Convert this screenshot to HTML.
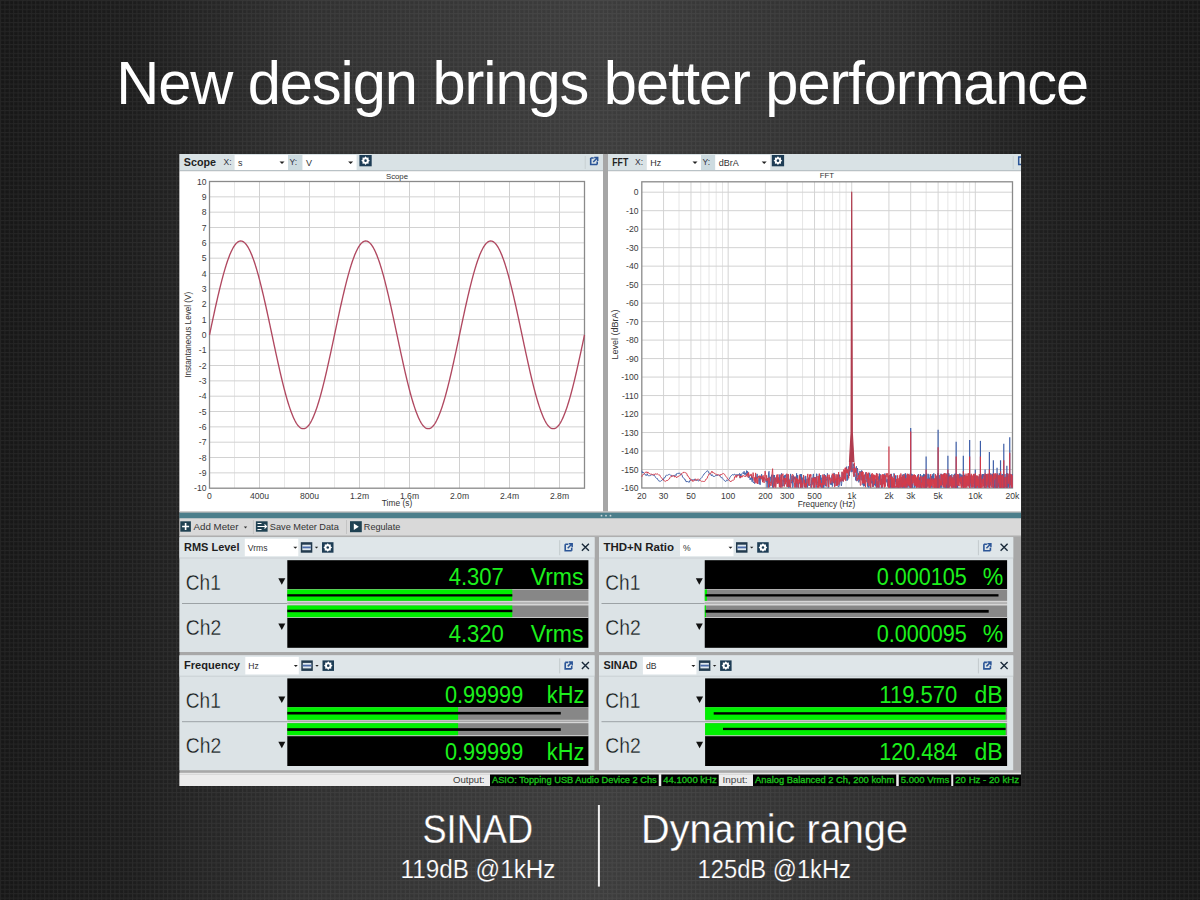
<!DOCTYPE html><html><head><meta charset="utf-8"><style>html,body{margin:0;padding:0;width:1200px;height:900px;overflow:hidden;background:#2a2a2a;font-family:"Liberation Sans",sans-serif}</style></head><body><svg width="1200" height="900" viewBox="0 0 1200 900" style="position:absolute;left:0;top:0" font-family="Liberation Sans, sans-serif">
<defs>
<linearGradient id="bg" x1="0" y1="0" x2="1200" y2="0" gradientUnits="userSpaceOnUse">
<stop offset="0" stop-color="#171717"/><stop offset="0.11" stop-color="#1d1d1d"/><stop offset="0.25" stop-color="#303030"/><stop offset="0.5" stop-color="#3d3d3d"/><stop offset="0.75" stop-color="#2e2e2e"/><stop offset="0.89" stop-color="#1c1c1c"/><stop offset="1" stop-color="#171717"/></linearGradient>
<pattern id="grid" width="4.4" height="4.4" patternUnits="userSpaceOnUse">
<rect x="0" y="0" width="1" height="4.4" fill="#ffffff" fill-opacity="0.06"/><rect x="1" y="0" width="3.4" height="1" fill="#ffffff" fill-opacity="0.06"/></pattern>
</defs>
<rect x="0.00" y="0.00" width="1200.00" height="900.00" fill="url(#bg)" />
<rect x="0.00" y="0.00" width="1200.00" height="900.00" fill="url(#grid)" />
<text x="116.20" y="103.75" font-size="61.60" fill="#ffffff" font-weight="normal" text-anchor="start" textLength="972.00" lengthAdjust="spacingAndGlyphs" letter-spacing="-1.1">New design brings better performance</text>
<rect x="179.50" y="154.00" width="841.50" height="632.00" fill="#a8a8a8" />
<rect x="179.50" y="154.00" width="423.50" height="16.50" fill="#d9e2e5" />
<rect x="179.50" y="170.00" width="423.50" height="1.20" fill="#b9c2c6" />
<rect x="179.50" y="171.20" width="423.50" height="340.80" fill="#ffffff" />
<text x="183.80" y="165.60" font-size="10.60" fill="#222" font-weight="bold" text-anchor="start" textLength="32.20" lengthAdjust="spacingAndGlyphs" >Scope</text>
<text x="223.50" y="165.00" font-size="8.50" fill="#334" font-weight="normal" text-anchor="start" >X:</text>
<rect x="234.60" y="155.00" width="53.40" height="15.00" fill="#ffffff" />
<text x="238.10" y="165.50" font-size="9.00" fill="#333" font-weight="normal" text-anchor="start" >s</text>
<path d="M279.5 161.5 h5 l-2.5 2.5z" fill="#222"/>
<rect x="288.00" y="155.00" width="14.50" height="15.00" fill="#cddbe0" />
<text x="289.50" y="165.00" font-size="8.50" fill="#334" font-weight="normal" text-anchor="start" >Y:</text>
<rect x="302.50" y="155.00" width="54.10" height="15.00" fill="#ffffff" />
<text x="306.00" y="165.50" font-size="9.00" fill="#333" font-weight="normal" text-anchor="start" >V</text>
<path d="M348.1 161.5 h5 l-2.5 2.5z" fill="#222"/>
<rect x="359.40" y="155.00" width="12.30" height="11.30" fill="#1e3d55" />
<polygon points="369.85,160.65 368.51,161.87 368.59,163.69 366.77,163.61 365.55,164.95 364.33,163.61 362.51,163.69 362.59,161.87 361.25,160.65 362.59,159.43 362.51,157.61 364.33,157.69 365.55,156.35 366.77,157.69 368.59,157.61 368.51,159.43" fill="#ffffff"/>
<circle cx="365.55" cy="160.65" r="1.3" fill="#1e3d55"/>
<path d="M590.7 158.0 v6.5 h6.5 M590.7 158.0 h3 M597.2 164.5 v-3" stroke="#2b5597" stroke-width="1.6" fill="none"/>
<path d="M593.2 162.0 L597.7 157.5 M594.2 157.5 h3.5 v3.5" stroke="#2b5597" stroke-width="1.5" fill="none"/>
<rect x="608.00" y="154.00" width="413.00" height="16.50" fill="#d9e2e5" />
<rect x="608.00" y="170.00" width="413.00" height="1.20" fill="#b9c2c6" />
<rect x="608.00" y="171.20" width="413.00" height="340.80" fill="#ffffff" />
<text x="612.30" y="165.60" font-size="10.60" fill="#222" font-weight="bold" text-anchor="start" textLength="15.90" lengthAdjust="spacingAndGlyphs" >FFT</text>
<text x="635.00" y="165.00" font-size="8.50" fill="#334" font-weight="normal" text-anchor="start" >X:</text>
<rect x="646.80" y="155.00" width="54.20" height="15.00" fill="#ffffff" />
<text x="650.30" y="165.50" font-size="9.00" fill="#333" font-weight="normal" text-anchor="start" >Hz</text>
<path d="M692.5 161.5 h5 l-2.5 2.5z" fill="#222"/>
<rect x="701.00" y="155.00" width="14.20" height="15.00" fill="#cddbe0" />
<text x="702.50" y="165.00" font-size="8.50" fill="#334" font-weight="normal" text-anchor="start" >Y:</text>
<rect x="715.20" y="155.00" width="55.00" height="15.00" fill="#ffffff" />
<text x="718.70" y="165.50" font-size="9.00" fill="#333" font-weight="normal" text-anchor="start" >dBrA</text>
<path d="M761.7 161.5 h5 l-2.5 2.5z" fill="#222"/>
<rect x="771.80" y="155.00" width="12.30" height="11.30" fill="#1e3d55" />
<polygon points="782.25,160.65 780.91,161.87 780.99,163.69 779.17,163.61 777.95,164.95 776.73,163.61 774.91,163.69 774.99,161.87 773.65,160.65 774.99,159.43 774.91,157.61 776.73,157.69 777.95,156.35 779.17,157.69 780.99,157.61 780.91,159.43" fill="#ffffff"/>
<circle cx="777.95" cy="160.65" r="1.3" fill="#1e3d55"/>
<path d="M1021 157 h-2.3 v7.5 h2.3" fill="none" stroke="#2b5597" stroke-width="1.5"/>
<line x1="1013.20" y1="156.00" x2="1013.20" y2="169.00" stroke="#c8d0d3" stroke-width="1" />
<line x1="585.20" y1="156.00" x2="585.20" y2="169.00" stroke="#c8d0d3" stroke-width="1" />
<rect x="603.00" y="154.00" width="5.00" height="358.00" fill="#a6a6a6" />
<line x1="234.50" y1="181.50" x2="234.50" y2="488.20" stroke="#e8e8e8" stroke-width="1" />
<line x1="259.50" y1="181.50" x2="259.50" y2="488.20" stroke="#d0d0d0" stroke-width="1" />
<line x1="284.50" y1="181.50" x2="284.50" y2="488.20" stroke="#e8e8e8" stroke-width="1" />
<line x1="309.50" y1="181.50" x2="309.50" y2="488.20" stroke="#d0d0d0" stroke-width="1" />
<line x1="334.50" y1="181.50" x2="334.50" y2="488.20" stroke="#e8e8e8" stroke-width="1" />
<line x1="359.50" y1="181.50" x2="359.50" y2="488.20" stroke="#d0d0d0" stroke-width="1" />
<line x1="384.50" y1="181.50" x2="384.50" y2="488.20" stroke="#e8e8e8" stroke-width="1" />
<line x1="409.50" y1="181.50" x2="409.50" y2="488.20" stroke="#d0d0d0" stroke-width="1" />
<line x1="434.50" y1="181.50" x2="434.50" y2="488.20" stroke="#e8e8e8" stroke-width="1" />
<line x1="459.50" y1="181.50" x2="459.50" y2="488.20" stroke="#d0d0d0" stroke-width="1" />
<line x1="484.50" y1="181.50" x2="484.50" y2="488.20" stroke="#e8e8e8" stroke-width="1" />
<line x1="509.50" y1="181.50" x2="509.50" y2="488.20" stroke="#d0d0d0" stroke-width="1" />
<line x1="534.50" y1="181.50" x2="534.50" y2="488.20" stroke="#e8e8e8" stroke-width="1" />
<line x1="559.50" y1="181.50" x2="559.50" y2="488.20" stroke="#d0d0d0" stroke-width="1" />
<line x1="209.50" y1="196.84" x2="584.50" y2="196.84" stroke="#d2d2d2" stroke-width="1" />
<line x1="209.50" y1="212.17" x2="584.50" y2="212.17" stroke="#d2d2d2" stroke-width="1" />
<line x1="209.50" y1="227.50" x2="584.50" y2="227.50" stroke="#d2d2d2" stroke-width="1" />
<line x1="209.50" y1="242.84" x2="584.50" y2="242.84" stroke="#d2d2d2" stroke-width="1" />
<line x1="209.50" y1="258.18" x2="584.50" y2="258.18" stroke="#d2d2d2" stroke-width="1" />
<line x1="209.50" y1="273.51" x2="584.50" y2="273.51" stroke="#d2d2d2" stroke-width="1" />
<line x1="209.50" y1="288.85" x2="584.50" y2="288.85" stroke="#d2d2d2" stroke-width="1" />
<line x1="209.50" y1="304.18" x2="584.50" y2="304.18" stroke="#d2d2d2" stroke-width="1" />
<line x1="209.50" y1="319.51" x2="584.50" y2="319.51" stroke="#d2d2d2" stroke-width="1" />
<line x1="209.50" y1="334.85" x2="584.50" y2="334.85" stroke="#d2d2d2" stroke-width="1" />
<line x1="209.50" y1="350.19" x2="584.50" y2="350.19" stroke="#d2d2d2" stroke-width="1" />
<line x1="209.50" y1="365.52" x2="584.50" y2="365.52" stroke="#d2d2d2" stroke-width="1" />
<line x1="209.50" y1="380.86" x2="584.50" y2="380.86" stroke="#d2d2d2" stroke-width="1" />
<line x1="209.50" y1="396.19" x2="584.50" y2="396.19" stroke="#d2d2d2" stroke-width="1" />
<line x1="209.50" y1="411.52" x2="584.50" y2="411.52" stroke="#d2d2d2" stroke-width="1" />
<line x1="209.50" y1="426.86" x2="584.50" y2="426.86" stroke="#d2d2d2" stroke-width="1" />
<line x1="209.50" y1="442.19" x2="584.50" y2="442.19" stroke="#d2d2d2" stroke-width="1" />
<line x1="209.50" y1="457.53" x2="584.50" y2="457.53" stroke="#d2d2d2" stroke-width="1" />
<line x1="209.50" y1="472.87" x2="584.50" y2="472.87" stroke="#d2d2d2" stroke-width="1" />
<rect x="209.50" y="181.50" width="375.00" height="306.70" fill="none" stroke="#8a8a8a" stroke-width="1.3"/>
<text x="206.50" y="184.50" font-size="8.60" fill="#3a3a3a" font-weight="normal" text-anchor="end" >10</text>
<text x="206.50" y="199.84" font-size="8.60" fill="#3a3a3a" font-weight="normal" text-anchor="end" >9</text>
<text x="206.50" y="215.17" font-size="8.60" fill="#3a3a3a" font-weight="normal" text-anchor="end" >8</text>
<text x="206.50" y="230.50" font-size="8.60" fill="#3a3a3a" font-weight="normal" text-anchor="end" >7</text>
<text x="206.50" y="245.84" font-size="8.60" fill="#3a3a3a" font-weight="normal" text-anchor="end" >6</text>
<text x="206.50" y="261.18" font-size="8.60" fill="#3a3a3a" font-weight="normal" text-anchor="end" >5</text>
<text x="206.50" y="276.51" font-size="8.60" fill="#3a3a3a" font-weight="normal" text-anchor="end" >4</text>
<text x="206.50" y="291.85" font-size="8.60" fill="#3a3a3a" font-weight="normal" text-anchor="end" >3</text>
<text x="206.50" y="307.18" font-size="8.60" fill="#3a3a3a" font-weight="normal" text-anchor="end" >2</text>
<text x="206.50" y="322.51" font-size="8.60" fill="#3a3a3a" font-weight="normal" text-anchor="end" >1</text>
<text x="206.50" y="337.85" font-size="8.60" fill="#3a3a3a" font-weight="normal" text-anchor="end" >0</text>
<text x="206.50" y="353.19" font-size="8.60" fill="#3a3a3a" font-weight="normal" text-anchor="end" >-1</text>
<text x="206.50" y="368.52" font-size="8.60" fill="#3a3a3a" font-weight="normal" text-anchor="end" >-2</text>
<text x="206.50" y="383.86" font-size="8.60" fill="#3a3a3a" font-weight="normal" text-anchor="end" >-3</text>
<text x="206.50" y="399.19" font-size="8.60" fill="#3a3a3a" font-weight="normal" text-anchor="end" >-4</text>
<text x="206.50" y="414.52" font-size="8.60" fill="#3a3a3a" font-weight="normal" text-anchor="end" >-5</text>
<text x="206.50" y="429.86" font-size="8.60" fill="#3a3a3a" font-weight="normal" text-anchor="end" >-6</text>
<text x="206.50" y="445.19" font-size="8.60" fill="#3a3a3a" font-weight="normal" text-anchor="end" >-7</text>
<text x="206.50" y="460.53" font-size="8.60" fill="#3a3a3a" font-weight="normal" text-anchor="end" >-8</text>
<text x="206.50" y="475.87" font-size="8.60" fill="#3a3a3a" font-weight="normal" text-anchor="end" >-9</text>
<text x="206.50" y="491.20" font-size="8.60" fill="#3a3a3a" font-weight="normal" text-anchor="end" >-10</text>
<text x="209.50" y="498.60" font-size="8.60" fill="#3a3a3a" font-weight="normal" text-anchor="middle" >0</text>
<text x="259.50" y="498.60" font-size="8.60" fill="#3a3a3a" font-weight="normal" text-anchor="middle" >400u</text>
<text x="309.50" y="498.60" font-size="8.60" fill="#3a3a3a" font-weight="normal" text-anchor="middle" >800u</text>
<text x="359.50" y="498.60" font-size="8.60" fill="#3a3a3a" font-weight="normal" text-anchor="middle" >1.2m</text>
<text x="409.50" y="498.60" font-size="8.60" fill="#3a3a3a" font-weight="normal" text-anchor="middle" >1.6m</text>
<text x="459.50" y="498.60" font-size="8.60" fill="#3a3a3a" font-weight="normal" text-anchor="middle" >2.0m</text>
<text x="509.50" y="498.60" font-size="8.60" fill="#3a3a3a" font-weight="normal" text-anchor="middle" >2.4m</text>
<text x="559.50" y="498.60" font-size="8.60" fill="#3a3a3a" font-weight="normal" text-anchor="middle" >2.8m</text>
<text x="397.00" y="178.60" font-size="7.80" fill="#333" font-weight="normal" text-anchor="middle" >Scope</text>
<text x="397.00" y="506.00" font-size="8.40" fill="#333" font-weight="normal" text-anchor="middle" >Time (s)</text>
<text x="0" y="0" font-size="8.8" fill="#333" text-anchor="middle" textLength="86" lengthAdjust="spacingAndGlyphs" transform="translate(191.0 334.8) rotate(-90)">Instantaneous Level (V)</text>
<polyline points="209.50,334.85 210.00,332.49 210.50,330.13 211.00,327.78 211.50,325.43 212.00,323.09 212.50,320.75 213.00,318.42 213.50,316.11 214.00,313.80 214.50,311.51 215.00,309.23 215.50,306.97 216.00,304.73 216.50,302.51 217.00,300.30 217.50,298.12 218.00,295.96 218.50,293.83 219.00,291.72 219.50,289.64 220.00,287.58 220.50,285.56 221.00,283.57 221.50,281.61 222.00,279.69 222.50,277.80 223.00,275.94 223.50,274.12 224.00,272.34 224.50,270.61 225.00,268.91 225.50,267.25 226.00,265.63 226.50,264.06 227.00,262.54 227.50,261.06 228.00,259.62 228.50,258.24 229.00,256.90 229.50,255.61 230.00,254.37 230.50,253.18 231.00,252.05 231.50,250.96 232.00,249.93 232.50,248.95 233.00,248.03 233.50,247.16 234.00,246.35 234.50,245.59 235.00,244.89 235.50,244.25 236.00,243.66 236.50,243.13 237.00,242.66 237.50,242.25 238.00,241.89 238.50,241.60 239.00,241.36 239.50,241.18 240.00,241.07 240.50,241.01 241.00,241.01 241.50,241.07 242.00,241.18 242.50,241.36 243.00,241.60 243.50,241.89 244.00,242.25 244.50,242.66 245.00,243.13 245.50,243.66 246.00,244.25 246.50,244.89 247.00,245.59 247.50,246.35 248.00,247.16 248.50,248.03 249.00,248.95 249.50,249.93 250.00,250.96 250.50,252.05 251.00,253.18 251.50,254.37 252.00,255.61 252.50,256.90 253.00,258.24 253.50,259.62 254.00,261.06 254.50,262.54 255.00,264.06 255.50,265.63 256.00,267.25 256.50,268.91 257.00,270.61 257.50,272.34 258.00,274.12 258.50,275.94 259.00,277.80 259.50,279.69 260.00,281.61 260.50,283.57 261.00,285.56 261.50,287.58 262.00,289.64 262.50,291.72 263.00,293.83 263.50,295.96 264.00,298.12 264.50,300.30 265.00,302.51 265.50,304.73 266.00,306.97 266.50,309.23 267.00,311.51 267.50,313.80 268.00,316.11 268.50,318.42 269.00,320.75 269.50,323.09 270.00,325.43 270.50,327.78 271.00,330.13 271.50,332.49 272.00,334.85 272.50,337.21 273.00,339.57 273.50,341.92 274.00,344.27 274.50,346.61 275.00,348.95 275.50,351.28 276.00,353.59 276.50,355.90 277.00,358.19 277.50,360.47 278.00,362.73 278.50,364.97 279.00,367.19 279.50,369.40 280.00,371.58 280.50,373.74 281.00,375.87 281.50,377.98 282.00,380.06 282.50,382.12 283.00,384.14 283.50,386.13 284.00,388.09 284.50,390.01 285.00,391.90 285.50,393.76 286.00,395.58 286.50,397.36 287.00,399.09 287.50,400.79 288.00,402.45 288.50,404.07 289.00,405.64 289.50,407.16 290.00,408.64 290.50,410.08 291.00,411.46 291.50,412.80 292.00,414.09 292.50,415.33 293.00,416.52 293.50,417.65 294.00,418.74 294.50,419.77 295.00,420.75 295.50,421.67 296.00,422.54 296.50,423.35 297.00,424.11 297.50,424.81 298.00,425.45 298.50,426.04 299.00,426.57 299.50,427.04 300.00,427.45 300.50,427.81 301.00,428.10 301.50,428.34 302.00,428.52 302.50,428.63 303.00,428.69 303.50,428.69 304.00,428.63 304.50,428.52 305.00,428.34 305.50,428.10 306.00,427.81 306.50,427.45 307.00,427.04 307.50,426.57 308.00,426.04 308.50,425.45 309.00,424.81 309.50,424.11 310.00,423.35 310.50,422.54 311.00,421.67 311.50,420.75 312.00,419.77 312.50,418.74 313.00,417.65 313.50,416.52 314.00,415.33 314.50,414.09 315.00,412.80 315.50,411.46 316.00,410.08 316.50,408.64 317.00,407.16 317.50,405.64 318.00,404.07 318.50,402.45 319.00,400.79 319.50,399.09 320.00,397.36 320.50,395.58 321.00,393.76 321.50,391.90 322.00,390.01 322.50,388.09 323.00,386.13 323.50,384.14 324.00,382.12 324.50,380.06 325.00,377.98 325.50,375.87 326.00,373.74 326.50,371.58 327.00,369.40 327.50,367.19 328.00,364.97 328.50,362.73 329.00,360.47 329.50,358.19 330.00,355.90 330.50,353.59 331.00,351.28 331.50,348.95 332.00,346.61 332.50,344.27 333.00,341.92 333.50,339.57 334.00,337.21 334.50,334.85 335.00,332.49 335.50,330.13 336.00,327.78 336.50,325.43 337.00,323.09 337.50,320.75 338.00,318.42 338.50,316.11 339.00,313.80 339.50,311.51 340.00,309.23 340.50,306.97 341.00,304.73 341.50,302.51 342.00,300.30 342.50,298.12 343.00,295.96 343.50,293.83 344.00,291.72 344.50,289.64 345.00,287.58 345.50,285.56 346.00,283.57 346.50,281.61 347.00,279.69 347.50,277.80 348.00,275.94 348.50,274.12 349.00,272.34 349.50,270.61 350.00,268.91 350.50,267.25 351.00,265.63 351.50,264.06 352.00,262.54 352.50,261.06 353.00,259.62 353.50,258.24 354.00,256.90 354.50,255.61 355.00,254.37 355.50,253.18 356.00,252.05 356.50,250.96 357.00,249.93 357.50,248.95 358.00,248.03 358.50,247.16 359.00,246.35 359.50,245.59 360.00,244.89 360.50,244.25 361.00,243.66 361.50,243.13 362.00,242.66 362.50,242.25 363.00,241.89 363.50,241.60 364.00,241.36 364.50,241.18 365.00,241.07 365.50,241.01 366.00,241.01 366.50,241.07 367.00,241.18 367.50,241.36 368.00,241.60 368.50,241.89 369.00,242.25 369.50,242.66 370.00,243.13 370.50,243.66 371.00,244.25 371.50,244.89 372.00,245.59 372.50,246.35 373.00,247.16 373.50,248.03 374.00,248.95 374.50,249.93 375.00,250.96 375.50,252.05 376.00,253.18 376.50,254.37 377.00,255.61 377.50,256.90 378.00,258.24 378.50,259.62 379.00,261.06 379.50,262.54 380.00,264.06 380.50,265.63 381.00,267.25 381.50,268.91 382.00,270.61 382.50,272.34 383.00,274.12 383.50,275.94 384.00,277.80 384.50,279.69 385.00,281.61 385.50,283.57 386.00,285.56 386.50,287.58 387.00,289.64 387.50,291.72 388.00,293.83 388.50,295.96 389.00,298.12 389.50,300.30 390.00,302.51 390.50,304.73 391.00,306.97 391.50,309.23 392.00,311.51 392.50,313.80 393.00,316.11 393.50,318.42 394.00,320.75 394.50,323.09 395.00,325.43 395.50,327.78 396.00,330.13 396.50,332.49 397.00,334.85 397.50,337.21 398.00,339.57 398.50,341.92 399.00,344.27 399.50,346.61 400.00,348.95 400.50,351.28 401.00,353.59 401.50,355.90 402.00,358.19 402.50,360.47 403.00,362.73 403.50,364.97 404.00,367.19 404.50,369.40 405.00,371.58 405.50,373.74 406.00,375.87 406.50,377.98 407.00,380.06 407.50,382.12 408.00,384.14 408.50,386.13 409.00,388.09 409.50,390.01 410.00,391.90 410.50,393.76 411.00,395.58 411.50,397.36 412.00,399.09 412.50,400.79 413.00,402.45 413.50,404.07 414.00,405.64 414.50,407.16 415.00,408.64 415.50,410.08 416.00,411.46 416.50,412.80 417.00,414.09 417.50,415.33 418.00,416.52 418.50,417.65 419.00,418.74 419.50,419.77 420.00,420.75 420.50,421.67 421.00,422.54 421.50,423.35 422.00,424.11 422.50,424.81 423.00,425.45 423.50,426.04 424.00,426.57 424.50,427.04 425.00,427.45 425.50,427.81 426.00,428.10 426.50,428.34 427.00,428.52 427.50,428.63 428.00,428.69 428.50,428.69 429.00,428.63 429.50,428.52 430.00,428.34 430.50,428.10 431.00,427.81 431.50,427.45 432.00,427.04 432.50,426.57 433.00,426.04 433.50,425.45 434.00,424.81 434.50,424.11 435.00,423.35 435.50,422.54 436.00,421.67 436.50,420.75 437.00,419.77 437.50,418.74 438.00,417.65 438.50,416.52 439.00,415.33 439.50,414.09 440.00,412.80 440.50,411.46 441.00,410.08 441.50,408.64 442.00,407.16 442.50,405.64 443.00,404.07 443.50,402.45 444.00,400.79 444.50,399.09 445.00,397.36 445.50,395.58 446.00,393.76 446.50,391.90 447.00,390.01 447.50,388.09 448.00,386.13 448.50,384.14 449.00,382.12 449.50,380.06 450.00,377.98 450.50,375.87 451.00,373.74 451.50,371.58 452.00,369.40 452.50,367.19 453.00,364.97 453.50,362.73 454.00,360.47 454.50,358.19 455.00,355.90 455.50,353.59 456.00,351.28 456.50,348.95 457.00,346.61 457.50,344.27 458.00,341.92 458.50,339.57 459.00,337.21 459.50,334.85 460.00,332.49 460.50,330.13 461.00,327.78 461.50,325.43 462.00,323.09 462.50,320.75 463.00,318.42 463.50,316.11 464.00,313.80 464.50,311.51 465.00,309.23 465.50,306.97 466.00,304.73 466.50,302.51 467.00,300.30 467.50,298.12 468.00,295.96 468.50,293.83 469.00,291.72 469.50,289.64 470.00,287.58 470.50,285.56 471.00,283.57 471.50,281.61 472.00,279.69 472.50,277.80 473.00,275.94 473.50,274.12 474.00,272.34 474.50,270.61 475.00,268.91 475.50,267.25 476.00,265.63 476.50,264.06 477.00,262.54 477.50,261.06 478.00,259.62 478.50,258.24 479.00,256.90 479.50,255.61 480.00,254.37 480.50,253.18 481.00,252.05 481.50,250.96 482.00,249.93 482.50,248.95 483.00,248.03 483.50,247.16 484.00,246.35 484.50,245.59 485.00,244.89 485.50,244.25 486.00,243.66 486.50,243.13 487.00,242.66 487.50,242.25 488.00,241.89 488.50,241.60 489.00,241.36 489.50,241.18 490.00,241.07 490.50,241.01 491.00,241.01 491.50,241.07 492.00,241.18 492.50,241.36 493.00,241.60 493.50,241.89 494.00,242.25 494.50,242.66 495.00,243.13 495.50,243.66 496.00,244.25 496.50,244.89 497.00,245.59 497.50,246.35 498.00,247.16 498.50,248.03 499.00,248.95 499.50,249.93 500.00,250.96 500.50,252.05 501.00,253.18 501.50,254.37 502.00,255.61 502.50,256.90 503.00,258.24 503.50,259.62 504.00,261.06 504.50,262.54 505.00,264.06 505.50,265.63 506.00,267.25 506.50,268.91 507.00,270.61 507.50,272.34 508.00,274.12 508.50,275.94 509.00,277.80 509.50,279.69 510.00,281.61 510.50,283.57 511.00,285.56 511.50,287.58 512.00,289.64 512.50,291.72 513.00,293.83 513.50,295.96 514.00,298.12 514.50,300.30 515.00,302.51 515.50,304.73 516.00,306.97 516.50,309.23 517.00,311.51 517.50,313.80 518.00,316.11 518.50,318.42 519.00,320.75 519.50,323.09 520.00,325.43 520.50,327.78 521.00,330.13 521.50,332.49 522.00,334.85 522.50,337.21 523.00,339.57 523.50,341.92 524.00,344.27 524.50,346.61 525.00,348.95 525.50,351.28 526.00,353.59 526.50,355.90 527.00,358.19 527.50,360.47 528.00,362.73 528.50,364.97 529.00,367.19 529.50,369.40 530.00,371.58 530.50,373.74 531.00,375.87 531.50,377.98 532.00,380.06 532.50,382.12 533.00,384.14 533.50,386.13 534.00,388.09 534.50,390.01 535.00,391.90 535.50,393.76 536.00,395.58 536.50,397.36 537.00,399.09 537.50,400.79 538.00,402.45 538.50,404.07 539.00,405.64 539.50,407.16 540.00,408.64 540.50,410.08 541.00,411.46 541.50,412.80 542.00,414.09 542.50,415.33 543.00,416.52 543.50,417.65 544.00,418.74 544.50,419.77 545.00,420.75 545.50,421.67 546.00,422.54 546.50,423.35 547.00,424.11 547.50,424.81 548.00,425.45 548.50,426.04 549.00,426.57 549.50,427.04 550.00,427.45 550.50,427.81 551.00,428.10 551.50,428.34 552.00,428.52 552.50,428.63 553.00,428.69 553.50,428.69 554.00,428.63 554.50,428.52 555.00,428.34 555.50,428.10 556.00,427.81 556.50,427.45 557.00,427.04 557.50,426.57 558.00,426.04 558.50,425.45 559.00,424.81 559.50,424.11 560.00,423.35 560.50,422.54 561.00,421.67 561.50,420.75 562.00,419.77 562.50,418.74 563.00,417.65 563.50,416.52 564.00,415.33 564.50,414.09 565.00,412.80 565.50,411.46 566.00,410.08 566.50,408.64 567.00,407.16 567.50,405.64 568.00,404.07 568.50,402.45 569.00,400.79 569.50,399.09 570.00,397.36 570.50,395.58 571.00,393.76 571.50,391.90 572.00,390.01 572.50,388.09 573.00,386.13 573.50,384.14 574.00,382.12 574.50,380.06 575.00,377.98 575.50,375.87 576.00,373.74 576.50,371.58 577.00,369.40 577.50,367.19 578.00,364.97 578.50,362.73 579.00,360.47 579.50,358.19 580.00,355.90 580.50,353.59 581.00,351.28 581.50,348.95 582.00,346.61 582.50,344.27 583.00,341.92 583.50,339.57 584.00,337.21 584.50,334.85" fill="none" stroke="#b04860" stroke-width="1.35"/>
<line x1="663.56" y1="181.80" x2="663.56" y2="488.00" stroke="#d4d4d4" stroke-width="1" />
<line x1="679.00" y1="181.80" x2="679.00" y2="488.00" stroke="#e6e6e6" stroke-width="1" />
<line x1="690.97" y1="181.80" x2="690.97" y2="488.00" stroke="#d4d4d4" stroke-width="1" />
<line x1="700.76" y1="181.80" x2="700.76" y2="488.00" stroke="#e6e6e6" stroke-width="1" />
<line x1="709.03" y1="181.80" x2="709.03" y2="488.00" stroke="#e6e6e6" stroke-width="1" />
<line x1="716.19" y1="181.80" x2="716.19" y2="488.00" stroke="#e6e6e6" stroke-width="1" />
<line x1="722.52" y1="181.80" x2="722.52" y2="488.00" stroke="#e6e6e6" stroke-width="1" />
<line x1="728.17" y1="181.80" x2="728.17" y2="488.00" stroke="#d4d4d4" stroke-width="1" />
<line x1="765.37" y1="181.80" x2="765.37" y2="488.00" stroke="#d4d4d4" stroke-width="1" />
<line x1="787.13" y1="181.80" x2="787.13" y2="488.00" stroke="#d4d4d4" stroke-width="1" />
<line x1="802.56" y1="181.80" x2="802.56" y2="488.00" stroke="#e6e6e6" stroke-width="1" />
<line x1="814.54" y1="181.80" x2="814.54" y2="488.00" stroke="#d4d4d4" stroke-width="1" />
<line x1="824.32" y1="181.80" x2="824.32" y2="488.00" stroke="#e6e6e6" stroke-width="1" />
<line x1="832.60" y1="181.80" x2="832.60" y2="488.00" stroke="#e6e6e6" stroke-width="1" />
<line x1="839.76" y1="181.80" x2="839.76" y2="488.00" stroke="#e6e6e6" stroke-width="1" />
<line x1="846.08" y1="181.80" x2="846.08" y2="488.00" stroke="#e6e6e6" stroke-width="1" />
<line x1="851.74" y1="181.80" x2="851.74" y2="488.00" stroke="#d4d4d4" stroke-width="1" />
<line x1="888.93" y1="181.80" x2="888.93" y2="488.00" stroke="#d4d4d4" stroke-width="1" />
<line x1="910.69" y1="181.80" x2="910.69" y2="488.00" stroke="#d4d4d4" stroke-width="1" />
<line x1="926.13" y1="181.80" x2="926.13" y2="488.00" stroke="#e6e6e6" stroke-width="1" />
<line x1="938.11" y1="181.80" x2="938.11" y2="488.00" stroke="#d4d4d4" stroke-width="1" />
<line x1="947.89" y1="181.80" x2="947.89" y2="488.00" stroke="#e6e6e6" stroke-width="1" />
<line x1="956.16" y1="181.80" x2="956.16" y2="488.00" stroke="#e6e6e6" stroke-width="1" />
<line x1="963.33" y1="181.80" x2="963.33" y2="488.00" stroke="#e6e6e6" stroke-width="1" />
<line x1="969.65" y1="181.80" x2="969.65" y2="488.00" stroke="#e6e6e6" stroke-width="1" />
<line x1="975.30" y1="181.80" x2="975.30" y2="488.00" stroke="#d4d4d4" stroke-width="1" />
<line x1="641.80" y1="192.20" x2="1012.50" y2="192.20" stroke="#d2d2d2" stroke-width="1" />
<line x1="641.80" y1="210.69" x2="1012.50" y2="210.69" stroke="#d2d2d2" stroke-width="1" />
<line x1="641.80" y1="229.17" x2="1012.50" y2="229.17" stroke="#d2d2d2" stroke-width="1" />
<line x1="641.80" y1="247.66" x2="1012.50" y2="247.66" stroke="#d2d2d2" stroke-width="1" />
<line x1="641.80" y1="266.15" x2="1012.50" y2="266.15" stroke="#d2d2d2" stroke-width="1" />
<line x1="641.80" y1="284.64" x2="1012.50" y2="284.64" stroke="#d2d2d2" stroke-width="1" />
<line x1="641.80" y1="303.12" x2="1012.50" y2="303.12" stroke="#d2d2d2" stroke-width="1" />
<line x1="641.80" y1="321.61" x2="1012.50" y2="321.61" stroke="#d2d2d2" stroke-width="1" />
<line x1="641.80" y1="340.10" x2="1012.50" y2="340.10" stroke="#d2d2d2" stroke-width="1" />
<line x1="641.80" y1="358.59" x2="1012.50" y2="358.59" stroke="#d2d2d2" stroke-width="1" />
<line x1="641.80" y1="377.07" x2="1012.50" y2="377.07" stroke="#d2d2d2" stroke-width="1" />
<line x1="641.80" y1="395.56" x2="1012.50" y2="395.56" stroke="#d2d2d2" stroke-width="1" />
<line x1="641.80" y1="414.05" x2="1012.50" y2="414.05" stroke="#d2d2d2" stroke-width="1" />
<line x1="641.80" y1="432.54" x2="1012.50" y2="432.54" stroke="#d2d2d2" stroke-width="1" />
<line x1="641.80" y1="451.02" x2="1012.50" y2="451.02" stroke="#d2d2d2" stroke-width="1" />
<line x1="641.80" y1="469.51" x2="1012.50" y2="469.51" stroke="#d2d2d2" stroke-width="1" />
<rect x="641.80" y="181.80" width="370.70" height="306.20" fill="none" stroke="#8a8a8a" stroke-width="1.3"/>
<text x="638.50" y="195.20" font-size="8.60" fill="#3a3a3a" font-weight="normal" text-anchor="end" >0</text>
<text x="638.50" y="213.69" font-size="8.60" fill="#3a3a3a" font-weight="normal" text-anchor="end" >-10</text>
<text x="638.50" y="232.17" font-size="8.60" fill="#3a3a3a" font-weight="normal" text-anchor="end" >-20</text>
<text x="638.50" y="250.66" font-size="8.60" fill="#3a3a3a" font-weight="normal" text-anchor="end" >-30</text>
<text x="638.50" y="269.15" font-size="8.60" fill="#3a3a3a" font-weight="normal" text-anchor="end" >-40</text>
<text x="638.50" y="287.64" font-size="8.60" fill="#3a3a3a" font-weight="normal" text-anchor="end" >-50</text>
<text x="638.50" y="306.12" font-size="8.60" fill="#3a3a3a" font-weight="normal" text-anchor="end" >-60</text>
<text x="638.50" y="324.61" font-size="8.60" fill="#3a3a3a" font-weight="normal" text-anchor="end" >-70</text>
<text x="638.50" y="343.10" font-size="8.60" fill="#3a3a3a" font-weight="normal" text-anchor="end" >-80</text>
<text x="638.50" y="361.59" font-size="8.60" fill="#3a3a3a" font-weight="normal" text-anchor="end" >-90</text>
<text x="638.50" y="380.07" font-size="8.60" fill="#3a3a3a" font-weight="normal" text-anchor="end" >-100</text>
<text x="638.50" y="398.56" font-size="8.60" fill="#3a3a3a" font-weight="normal" text-anchor="end" >-110</text>
<text x="638.50" y="417.05" font-size="8.60" fill="#3a3a3a" font-weight="normal" text-anchor="end" >-120</text>
<text x="638.50" y="435.54" font-size="8.60" fill="#3a3a3a" font-weight="normal" text-anchor="end" >-130</text>
<text x="638.50" y="454.02" font-size="8.60" fill="#3a3a3a" font-weight="normal" text-anchor="end" >-140</text>
<text x="638.50" y="472.51" font-size="8.60" fill="#3a3a3a" font-weight="normal" text-anchor="end" >-150</text>
<text x="638.50" y="491.00" font-size="8.60" fill="#3a3a3a" font-weight="normal" text-anchor="end" >-160</text>
<text x="641.80" y="498.60" font-size="8.60" fill="#3a3a3a" font-weight="normal" text-anchor="middle" >20</text>
<text x="663.56" y="498.60" font-size="8.60" fill="#3a3a3a" font-weight="normal" text-anchor="middle" >30</text>
<text x="690.97" y="498.60" font-size="8.60" fill="#3a3a3a" font-weight="normal" text-anchor="middle" >50</text>
<text x="728.17" y="498.60" font-size="8.60" fill="#3a3a3a" font-weight="normal" text-anchor="middle" >100</text>
<text x="765.37" y="498.60" font-size="8.60" fill="#3a3a3a" font-weight="normal" text-anchor="middle" >200</text>
<text x="787.13" y="498.60" font-size="8.60" fill="#3a3a3a" font-weight="normal" text-anchor="middle" >300</text>
<text x="814.54" y="498.60" font-size="8.60" fill="#3a3a3a" font-weight="normal" text-anchor="middle" >500</text>
<text x="851.74" y="498.60" font-size="8.60" fill="#3a3a3a" font-weight="normal" text-anchor="middle" >1k</text>
<text x="888.93" y="498.60" font-size="8.60" fill="#3a3a3a" font-weight="normal" text-anchor="middle" >2k</text>
<text x="910.69" y="498.60" font-size="8.60" fill="#3a3a3a" font-weight="normal" text-anchor="middle" >3k</text>
<text x="938.11" y="498.60" font-size="8.60" fill="#3a3a3a" font-weight="normal" text-anchor="middle" >5k</text>
<text x="975.30" y="498.60" font-size="8.60" fill="#3a3a3a" font-weight="normal" text-anchor="middle" >10k</text>
<text x="1012.50" y="498.60" font-size="8.60" fill="#3a3a3a" font-weight="normal" text-anchor="middle" >20k</text>
<text x="827.00" y="177.80" font-size="7.80" fill="#333" font-weight="normal" text-anchor="middle" >FFT</text>
<text x="826.50" y="506.50" font-size="8.40" fill="#333" font-weight="normal" text-anchor="middle" >Frequency (Hz)</text>
<text x="0" y="0" font-size="8.8" fill="#333" text-anchor="middle" textLength="50" lengthAdjust="spacingAndGlyphs" transform="translate(617.8 334.6) rotate(-90)">Level (dBrA)</text>
<polyline points="641.8,470.7 642.4,473.0 643.0,472.0 643.6,472.9 644.2,473.4 644.8,473.9 645.4,475.2 646.0,474.8 646.6,475.5 647.2,473.8 647.8,475.4 648.4,475.7 649.0,475.6 649.6,475.7 650.2,475.7 650.8,475.3 651.4,474.8 652.0,475.1 652.6,474.6 653.2,475.3 653.8,475.5 654.4,475.3 655.0,476.3 655.6,477.5 656.2,478.1 656.8,478.5 657.4,478.5 658.0,480.2 658.6,480.7 659.2,480.6 659.8,481.6 660.4,481.4 661.0,480.7 661.6,480.5 662.2,480.2 662.8,479.3 663.4,480.1 664.0,477.6 664.6,477.7 665.2,477.4 665.8,475.8 666.4,475.1 667.0,475.3 667.6,475.3 668.2,474.7 668.8,474.8 669.4,474.2 670.0,474.7 670.6,475.2 671.2,475.0 671.8,475.8 672.4,476.2 673.0,475.6 673.6,475.5 674.2,475.6 674.8,475.6 675.4,474.7 676.0,475.6 676.6,473.7 677.2,473.4 677.8,474.0 678.4,473.1 679.0,473.5 679.6,472.8 680.2,474.4 680.8,474.3 681.4,474.2 682.0,474.8 682.6,477.2 683.2,477.4 683.8,478.0 684.4,479.3 685.0,479.1 685.6,481.2 686.2,481.0 686.8,482.1 687.4,481.2 688.0,481.9 688.6,482.0 689.2,482.4 689.8,480.5 690.4,480.6 691.0,480.2 691.6,479.6 692.2,479.7 692.8,479.9 693.4,479.9 694.0,479.9 694.6,478.9 695.2,480.4 695.8,480.2 696.4,480.3 697.0,480.2 697.6,480.1 698.2,481.0 698.8,481.1 699.4,480.1 700.0,479.1 700.6,478.7 701.2,478.3 701.8,477.7 702.4,476.5 703.0,475.8 703.6,474.4 704.2,474.3 704.8,473.1 705.4,472.6 706.0,471.8 706.6,471.7 707.2,470.6 707.8,471.2 708.4,471.4 709.0,473.5 709.6,473.2 710.2,473.9 710.8,474.0 711.4,475.8 712.0,474.7 712.6,475.1 713.2,476.5 713.8,476.5 714.4,476.5 715.0,476.1 715.6,475.7 716.2,474.9 716.8,475.8 717.4,475.2 718.0,475.4 718.6,474.7 719.2,475.4 719.8,475.4 720.4,476.9 721.0,477.0 721.6,477.9 722.2,477.5 722.8,478.6 723.4,479.7 724.0,480.4 724.6,480.4 725.2,481.3 725.8,481.5 726.4,480.8 727.0,479.7 727.6,480.5 728.2,480.1 728.8,479.6 729.4,478.9 730.0,477.3 730.6,476.3 731.2,475.9 731.8,475.1 732.4,474.7 733.0,474.3 733.6,475.3 734.1,474.4 734.6,474.0 735.1,474.9 735.6,474.9 736.1,475.4 736.6,475.2 737.1,474.2 737.6,475.7 738.1,475.6 738.6,474.6 739.1,474.8 739.6,473.4 740.1,478.2 740.6,474.1 741.1,475.8 741.6,474.7 742.1,473.4 742.6,472.8 743.1,472.6 743.6,473.9 744.1,471.3 744.6,474.5 745.1,474.4 745.6,472.8 746.1,475.6 746.6,470.6 747.1,473.2 747.6,471.2 748.1,476.4 748.6,477.7 749.1,477.1 749.6,476.3 750.1,479.9 750.6,478.1 751.1,479.5 751.6,475.7 752.1,481.7 752.6,477.4 753.1,482.0 753.6,483.0 754.1,482.3 754.6,483.6 755.1,479.5 755.6,476.7 756.1,479.1 756.6,477.4 757.1,473.9 757.6,478.1 758.1,478.1 758.6,479.6 759.1,484.1 759.6,475.8 760.1,484.8 760.6,476.1 761.1,478.5 761.6,474.2 762.1,478.8 762.6,481.8 763.1,477.1 763.6,480.8 764.1,479.3 764.6,478.3 765.1,479.0 765.6,479.1 766.1,481.9 766.6,478.9 767.1,487.5 767.6,478.5 768.1,483.4 768.6,472.2 769.1,471.3 769.6,487.2 770.1,476.7 770.6,478.1 771.1,483.0 771.6,474.8 772.1,480.2 772.6,487.5 773.1,474.8 773.5,475.1 773.8,487.3 774.2,479.3 774.5,475.0 774.9,486.2 775.2,482.7 775.6,477.9 775.9,477.5 776.3,482.1 776.6,479.1 777.0,478.6 777.3,483.7 777.7,478.9 778.0,480.1 778.4,478.1 778.7,481.2 779.1,484.0 779.4,482.4 779.8,474.5 780.1,486.4 780.5,487.1 780.8,487.5 781.2,475.6 781.5,473.4 781.9,485.6 782.2,485.1 782.6,486.3 782.9,479.7 783.3,481.6 783.6,476.1 784.0,486.1 784.3,475.2 784.7,481.9 785.0,476.3 785.4,476.4 785.7,474.7 786.1,481.4 786.4,479.6 786.8,480.4 787.1,486.4 787.5,481.3 787.8,474.4 788.2,474.7 788.5,487.5 788.9,478.7 789.2,484.2 789.6,487.3 789.9,487.2 790.3,476.5 790.6,473.9 791.0,481.0 791.3,483.2 791.7,481.2 792.0,476.0 792.4,477.3 792.7,487.5 793.1,486.0 793.4,475.4 793.8,481.5 794.1,478.8 794.5,476.8 794.8,479.1 795.2,477.5 795.5,480.6 795.9,485.7 796.2,486.4 796.6,473.3 796.9,487.5 797.3,478.2 797.6,475.2 798.0,485.7 798.3,487.5 798.7,483.0 799.0,484.1 799.4,482.0 799.7,482.5 800.1,474.2 800.4,487.5 800.8,474.1 801.1,487.5 801.5,474.2 801.8,484.1 802.2,477.6 802.5,487.5 802.9,482.2 803.2,478.4 803.6,479.3 803.9,476.4 804.3,487.0 804.6,482.9 805.0,479.5 805.3,487.5 805.7,475.9 806.0,482.7 806.4,485.5 806.7,485.9 807.1,478.9 807.4,487.5 807.8,485.5 808.1,484.5 808.5,485.3 808.8,477.6 809.2,479.8 809.5,474.8 809.9,478.1 810.2,484.7 810.6,484.2 810.9,487.5 811.3,485.5 811.6,479.6 812.0,477.6 812.3,484.6 812.7,483.9 813.0,476.4 813.4,473.9 813.7,487.5 814.1,487.5 814.4,477.1 814.8,481.4 815.1,482.5 815.5,479.1 815.8,477.1 816.2,487.5 816.5,473.8 816.9,473.9 817.2,482.7 817.6,481.8 817.9,485.0 818.3,479.9 818.6,486.1 819.0,480.7 819.3,474.7 819.7,481.2 820.0,476.0 820.4,486.5 820.7,475.0 821.1,487.4 821.4,485.9 821.8,477.7 822.1,484.5 822.5,487.4 822.8,487.5 823.2,476.5 823.5,487.5 823.9,487.5 824.2,474.0 824.6,476.6 824.9,483.3 825.3,486.2 825.6,475.2 826.0,476.5 826.3,478.4 826.7,480.6 827.0,480.7 827.4,473.3 827.7,480.7 828.1,487.5 828.4,487.5 828.8,479.5 829.1,477.2 829.5,478.9 829.8,477.0 830.2,484.3 830.5,483.0 830.9,484.7 831.2,483.0 831.6,484.7 831.9,475.4 832.3,486.5 832.6,485.5 833.0,477.2 833.3,482.3 833.7,483.2 834.0,472.9 834.4,474.1 834.7,485.1 835.1,486.0 835.4,480.5 835.8,479.1 836.1,482.7 836.5,478.7 836.8,477.2 837.2,474.9 837.5,484.1 837.9,477.5 838.2,486.9 838.6,486.7 838.9,486.7 839.3,485.6 839.6,474.7 840.0,481.2 840.3,479.1 840.7,479.6 841.0,483.4 841.4,485.9 841.7,483.5 842.1,472.3 842.4,480.5 842.8,479.0 843.1,481.3 843.5,473.3 843.8,473.6 844.2,478.5 844.5,476.2 844.9,477.7 845.2,474.4 845.6,473.7 845.9,473.6 846.3,467.9 846.6,466.7 847.0,480.8 847.3,475.0 847.7,480.0 848.0,473.9 848.4,466.4 848.7,467.7 849.1,468.8 849.4,475.9 849.8,463.3 850.1,465.7 850.5,469.9 850.8,461.1 851.2,472.2 851.5,468.7 851.9,458.5 852.2,471.7 852.6,471.4 852.9,466.3 853.3,463.8 853.6,466.7 854.0,476.5 854.3,473.4 854.7,467.0 855.0,473.5 855.4,476.7 855.7,480.4 856.1,476.7 856.4,466.3 856.8,481.2 857.1,473.4 857.5,468.1 857.8,471.9 858.2,479.1 858.5,473.4 858.9,482.4 859.2,476.5 859.6,480.7 859.9,471.0 860.3,471.4 860.6,473.3 861.0,479.8 861.3,473.2 861.7,470.4 862.0,480.5 862.4,478.2 862.7,484.3 863.1,485.3 863.4,475.5 863.8,486.4 864.1,477.7 864.5,485.8 864.8,476.8 865.2,475.6 865.5,472.6 865.9,481.7 866.2,481.8 866.6,481.7 866.9,476.8 867.3,475.5 867.6,486.5 868.0,483.2 868.3,487.5 868.7,484.8 869.0,476.7 869.4,473.5 869.7,472.8 870.1,487.5 870.4,482.3 870.8,474.7 871.1,480.7 871.5,483.3 871.8,476.2 872.2,474.9 872.5,486.7 872.9,480.7 873.2,486.7 873.6,486.2 873.9,480.5 874.3,485.0 874.6,476.1 875.0,483.3 875.3,486.3 875.7,479.0 876.0,485.0 876.4,487.5 876.7,473.0 877.1,486.3 877.4,487.2 877.8,481.5 878.1,487.5 878.5,476.5 878.8,487.5 879.2,487.5 879.5,473.6 879.9,481.0 880.2,474.3 880.6,474.8 880.9,477.4 881.3,487.5 881.6,478.9 882.0,487.5 882.3,487.5 882.7,475.7 883.0,484.4 883.4,477.3 883.7,480.8 884.1,476.7 884.4,479.0 884.8,473.6 885.1,481.7 885.5,475.6 885.8,476.1 886.2,479.9 886.5,481.2 886.9,482.4 887.2,478.9 887.6,486.3 887.9,482.3 888.3,478.9 888.6,484.5 889.0,485.9 889.1,487.5 889.3,476.4 889.5,475.2 889.7,475.9 889.9,478.0 890.0,479.6 890.2,487.5 890.4,475.1 890.6,481.8 890.8,478.3 890.9,487.5 891.1,477.3 891.3,487.1 891.5,473.9 891.7,477.9 891.8,480.8 892.0,478.8 892.2,485.7 892.4,481.3 892.6,487.5 892.7,484.9 892.9,484.8 893.1,486.8 893.3,482.7 893.5,487.5 893.6,487.5 893.8,484.1 894.0,473.3 894.2,477.6 894.4,482.5 894.5,486.2 894.7,487.5 894.9,482.7 895.1,478.8 895.3,476.0 895.4,481.9 895.6,475.6 895.8,476.3 896.0,475.6 896.2,484.1 896.3,481.9 896.5,486.9 896.7,480.0 896.9,487.5 897.1,481.8 897.2,486.8 897.4,481.7 897.6,486.5 897.8,487.5 898.0,482.6 898.1,482.5 898.3,480.7 898.5,487.4 898.7,481.4 898.9,484.6 899.0,487.5 899.2,482.8 899.4,478.6 899.6,484.5 899.8,477.9 899.9,476.6 900.1,487.5 900.3,486.0 900.5,484.9 900.7,479.8 900.8,481.6 901.0,480.2 901.2,487.5 901.4,484.8 901.6,486.9 901.7,477.3 901.9,478.4 902.1,484.5 902.3,475.2 902.5,487.3 902.6,487.5 902.8,483.4 903.0,478.6 903.2,474.1 903.4,481.2 903.5,487.3 903.7,479.8 903.9,487.5 904.1,476.2 904.3,484.2 904.4,487.5 904.6,487.0 904.8,476.0 905.0,474.7 905.2,486.5 905.3,473.2 905.5,475.5 905.7,484.1 905.9,487.5 906.1,487.0 906.2,482.4 906.4,486.1 906.6,486.5 906.8,485.0 907.0,475.2 907.1,487.5 907.3,474.5 907.5,482.2 907.7,477.5 907.9,481.1 908.0,474.1 908.2,486.5 908.4,485.3 908.6,481.2 908.8,481.2 908.9,484.1 909.1,484.5 909.3,487.5 909.5,481.3 909.7,476.0 909.8,475.4 910.0,482.7 910.2,473.5 910.4,473.7 910.6,484.3 910.7,487.5 910.9,475.9 911.1,474.2 911.3,478.9 911.5,473.8 911.6,481.7 911.8,481.0 912.0,487.5 912.2,483.5 912.4,474.4 912.5,487.5 912.7,487.2 912.9,487.5 913.1,481.4 913.3,479.7 913.4,480.8 913.6,475.2 913.8,478.4 914.0,479.1 914.2,479.7 914.3,481.2 914.5,487.5 914.7,487.5 914.9,479.0 915.1,486.0 915.2,482.7 915.4,478.9 915.6,479.7 915.8,485.5 916.0,485.1 916.1,487.2 916.3,478.7 916.5,477.8 916.7,487.3 916.9,485.1 917.0,487.1 917.2,479.5 917.4,484.7 917.6,475.3 917.8,485.1 917.9,479.0 918.1,479.1 918.3,474.2 918.5,477.7 918.7,474.3 918.8,480.0 919.0,487.5 919.2,484.2 919.4,477.4 919.6,483.9 919.7,478.8 919.9,487.5 920.1,479.0 920.3,483.2 920.5,474.1 920.6,487.5 920.8,483.6 921.0,477.0 921.2,483.1 921.4,482.0 921.5,484.0 921.7,487.5 921.9,484.3 922.1,475.2 922.3,477.0 922.4,484.4 922.6,478.6 922.8,476.6 923.0,476.5 923.2,487.5 923.3,486.8 923.5,473.9 923.7,484.9 923.9,476.8 924.1,479.2 924.2,475.3 924.4,487.5 924.6,474.3 924.8,475.2 925.0,485.6 925.1,477.9 925.3,487.5 925.5,475.4 925.7,482.7 925.9,477.4 926.0,476.5 926.2,487.5 926.4,475.1 926.6,487.5 926.8,487.0 926.9,482.1 927.1,485.4 927.3,478.9 927.5,486.4 927.7,479.3 927.8,477.1 928.0,473.8 928.2,483.0 928.4,484.8 928.5,480.1 928.7,478.9 928.9,474.5 929.1,480.0 929.3,482.3 929.4,484.6 929.6,477.7 929.8,479.1 930.0,487.5 930.2,484.6 930.3,486.8 930.5,481.4 930.7,483.3 930.9,486.9 931.1,480.9 931.2,478.8 931.4,483.9 931.6,475.9 931.8,487.5 932.0,487.5 932.1,478.0 932.3,480.3 932.5,477.2 932.7,474.3 932.9,481.2 933.0,476.2 933.2,478.9 933.4,481.1 933.6,481.3 933.8,473.3 933.9,483.9 934.1,482.6 934.3,481.8 934.5,479.1 934.7,487.5 934.8,478.9 935.0,487.5 935.2,483.3 935.4,482.3 935.6,480.3 935.7,480.2 935.9,479.7 936.1,487.5 936.3,484.1 936.5,477.5 936.6,482.7 936.8,476.0 937.0,480.6 937.2,480.2 937.4,478.5 937.5,473.5 937.7,487.5 937.9,487.5 938.1,487.5 938.3,486.1 938.4,487.5 938.6,473.4 938.8,487.0 939.0,481.8 939.2,475.1 939.3,481.8 939.5,485.5 939.7,484.7 939.9,482.6 940.1,484.5 940.2,481.8 940.4,482.8 940.6,487.5 940.8,475.3 941.0,473.7 941.1,480.3 941.3,487.5 941.5,474.7 941.7,483.6 941.9,483.3 942.0,485.3 942.2,474.4 942.4,478.2 942.6,484.6 942.8,483.5 942.9,482.6 943.1,483.3 943.3,478.5 943.5,474.0 943.7,487.5 943.8,475.7 944.0,475.7 944.2,485.9 944.4,473.6 944.6,475.2 944.7,477.7 944.9,487.5 945.1,482.2 945.3,477.2 945.5,480.5 945.6,487.5 945.8,477.1 946.0,482.8 946.2,485.9 946.4,483.8 946.5,487.5 946.7,483.6 946.9,487.5 947.1,473.2 947.3,487.3 947.4,484.0 947.6,484.6 947.8,482.0 948.0,484.0 948.2,475.0 948.3,486.4 948.5,473.3 948.7,483.1 948.9,473.5 949.1,484.0 949.2,487.5 949.4,475.9 949.6,486.9 949.8,477.4 950.0,475.2 950.1,485.9 950.3,484.3 950.5,480.3 950.7,475.3 950.9,475.6 951.0,481.6 951.2,480.3 951.4,476.4 951.6,487.0 951.8,474.3 951.9,475.4 952.1,485.7 952.3,479.2 952.5,477.6 952.7,478.9 952.8,487.5 953.0,487.5 953.2,485.9 953.4,487.5 953.6,481.6 953.7,477.5 953.9,480.1 954.1,474.7 954.3,481.5 954.5,482.2 954.6,487.4 954.8,474.0 955.0,478.5 955.2,473.5 955.4,474.3 955.5,487.5 955.7,479.7 955.9,481.6 956.1,477.2 956.3,487.5 956.4,478.8 956.6,479.5 956.8,483.4 957.0,487.4 957.2,478.3 957.3,487.5 957.5,484.0 957.7,487.5 957.9,484.5 958.1,485.4 958.2,479.4 958.4,478.4 958.6,478.0 958.8,482.8 959.0,477.2 959.1,478.7 959.3,480.8 959.5,476.8 959.7,473.7 959.9,481.7 960.0,473.8 960.2,479.3 960.4,483.2 960.6,481.7 960.8,478.8 960.9,484.3 961.1,474.5 961.3,483.2 961.5,479.3 961.7,475.5 961.8,476.0 962.0,478.5 962.2,477.9 962.4,477.2 962.6,479.9 962.7,482.4 962.9,474.9 963.1,486.9 963.3,487.4 963.5,484.4 963.6,485.7 963.8,473.6 964.0,480.8 964.2,475.1 964.4,480.5 964.5,485.9 964.7,475.2 964.9,475.1 965.1,487.5 965.3,477.0 965.4,480.2 965.6,486.6 965.8,484.0 966.0,477.5 966.2,486.4 966.3,479.6 966.5,480.8 966.7,480.8 966.9,486.5 967.1,476.1 967.2,480.7 967.4,478.3 967.6,479.3 967.8,484.3 968.0,477.5 968.1,483.0 968.3,474.5 968.5,482.0 968.7,486.3 968.9,481.9 969.0,483.1 969.2,474.0 969.4,484.5 969.6,475.0 969.8,487.5 969.9,487.3 970.1,484.7 970.3,477.4 970.5,479.7 970.7,482.7 970.8,482.7 971.0,475.8 971.2,485.9 971.4,476.7 971.6,483.4 971.7,478.2 971.9,476.2 972.1,482.5 972.3,486.3 972.5,485.6 972.6,485.5 972.8,487.5 973.0,482.5 973.2,479.0 973.4,483.2 973.5,473.9 973.7,474.2 973.9,476.8 974.1,476.6 974.3,484.4 974.4,477.1 974.6,487.5 974.8,487.5 975.0,487.5 975.2,484.3 975.3,477.7 975.5,487.5 975.7,483.2 975.9,479.8 976.1,475.7 976.2,480.3 976.4,485.5 976.6,487.5 976.8,481.2 977.0,476.4 977.1,475.9 977.3,479.4 977.5,486.6 977.7,487.5 977.9,487.5 978.0,485.1 978.2,480.8 978.4,487.0 978.6,479.4 978.8,484.4 978.9,476.6 979.1,480.8 979.3,477.0 979.5,485.3 979.7,480.2 979.8,475.1 980.0,487.5 980.2,474.3 980.4,479.9 980.6,473.3 980.7,484.9 980.9,481.5 981.1,478.4 981.3,479.8 981.5,479.4 981.6,475.4 981.8,486.8 982.0,477.8 982.2,482.2 982.4,474.6 982.5,474.1 982.7,482.3 982.9,483.7 983.1,474.8 983.3,474.2 983.4,476.9 983.6,474.8 983.8,474.1 984.0,481.6 984.2,483.6 984.3,487.5 984.5,482.3 984.7,485.9 984.9,477.7 985.1,479.5 985.2,474.2 985.4,478.3 985.6,485.4 985.8,483.4 986.0,481.3 986.1,480.7 986.3,474.2 986.5,479.2 986.7,484.2 986.9,485.0 987.0,480.1 987.2,487.5 987.4,482.0 987.6,474.9 987.8,474.5 987.9,480.4 988.1,480.6 988.3,484.1 988.5,479.9 988.7,482.0 988.8,478.9 989.0,474.0 989.2,477.2 989.4,487.2 989.6,486.7 989.7,478.2 989.9,473.6 990.1,479.7 990.3,475.8 990.5,484.9 990.6,485.5 990.8,473.5 991.0,475.2 991.2,482.2 991.4,476.2 991.5,479.0 991.7,476.8 991.9,479.9 992.1,478.4 992.3,474.1 992.4,482.5 992.6,477.5 992.8,473.9 993.0,487.5 993.2,485.4 993.3,483.7 993.5,480.1 993.7,482.1 993.9,474.1 994.1,486.4 994.2,484.5 994.4,487.5 994.6,486.6 994.8,479.8 995.0,487.5 995.1,474.2 995.3,477.1 995.5,487.5 995.7,476.6 995.9,487.5 996.0,481.1 996.2,486.0 996.4,486.7 996.6,480.8 996.8,475.1 996.9,487.5 997.1,486.1 997.3,481.6 997.5,473.9 997.7,483.6 997.8,475.3 998.0,480.7 998.2,482.1 998.4,477.1 998.6,486.3 998.7,480.9 998.9,487.5 999.1,481.0 999.3,473.3 999.5,487.5 999.6,487.5 999.8,480.2 1000.0,474.3 1000.2,480.4 1000.4,473.8 1000.5,484.3 1000.7,473.3 1000.9,486.0 1001.1,476.9 1001.3,484.0 1001.4,475.9 1001.6,487.5 1001.8,484.4 1002.0,474.4 1002.2,476.9 1002.3,481.6 1002.5,483.3 1002.7,474.1 1002.9,486.3 1003.1,486.4 1003.2,487.5 1003.4,478.6 1003.6,474.6 1003.8,487.4 1004.0,477.1 1004.1,477.0 1004.3,486.2 1004.5,481.0 1004.7,480.2 1004.9,487.5 1005.0,474.1 1005.2,487.3 1005.4,487.0 1005.6,478.0 1005.8,481.3 1005.9,476.7 1006.1,479.0 1006.3,487.5 1006.5,482.1 1006.7,473.6 1006.8,484.5 1007.0,486.5 1007.2,475.0 1007.4,487.5 1007.6,482.8 1007.7,473.3 1007.9,475.5 1008.1,487.3 1008.3,487.5 1008.5,481.6 1008.6,478.3 1008.8,476.3 1009.0,486.2 1009.2,482.5 1009.4,482.1 1009.5,484.5 1009.7,478.4 1009.9,480.7 1010.1,482.7 1010.3,476.9 1010.4,484.6 1010.6,479.7 1010.8,476.8 1011.0,484.0 1011.2,487.5 1011.3,487.5 1011.5,476.6 1011.7,476.2 1011.9,477.9 1012.1,487.5 1012.2,485.3 1012.4,474.0" fill="none" stroke="#4563aa" stroke-width="0.95" stroke-linejoin="bevel"/>
<polyline points="641.8,476.9 642.4,475.3 643.0,474.4 643.6,474.4 644.2,473.6 644.8,473.1 645.4,472.2 646.0,472.3 646.6,471.9 647.2,473.2 647.8,471.9 648.4,473.0 649.0,473.0 649.6,473.7 650.2,474.2 650.8,474.1 651.4,474.1 652.0,474.7 652.6,474.7 653.2,474.2 653.8,474.7 654.4,474.8 655.0,473.7 655.6,474.0 656.2,474.4 656.8,473.9 657.4,473.8 658.0,474.4 658.6,475.0 659.2,474.8 659.8,475.1 660.4,476.4 661.0,477.5 661.6,477.8 662.2,478.5 662.8,479.8 663.4,480.0 664.0,480.3 664.6,481.2 665.2,481.6 665.8,481.0 666.4,480.8 667.0,480.0 667.6,480.6 668.2,479.7 668.8,479.2 669.4,479.0 670.0,477.5 670.6,476.8 671.2,477.0 671.8,475.7 672.4,475.8 673.0,475.9 673.6,476.0 674.2,475.9 674.8,477.2 675.4,476.4 676.0,476.6 676.6,477.8 677.2,476.8 677.8,476.9 678.4,476.2 679.0,476.4 679.6,475.7 680.2,475.0 680.8,475.0 681.4,473.7 682.0,473.5 682.6,472.8 683.2,472.9 683.8,472.0 684.4,472.2 685.0,472.8 685.6,472.8 686.2,473.1 686.8,473.5 687.4,475.9 688.0,475.7 688.6,476.8 689.2,477.9 689.8,479.1 690.4,478.8 691.0,480.5 691.6,480.1 692.2,480.0 692.8,481.5 693.4,480.8 694.0,481.1 694.6,480.2 695.2,479.4 695.8,478.9 696.4,480.5 697.0,479.8 697.6,479.2 698.2,478.8 698.8,479.5 699.4,480.3 700.0,480.2 700.6,480.7 701.2,481.1 701.8,481.6 702.4,481.3 703.0,481.4 703.6,481.5 704.2,481.4 704.8,481.4 705.4,480.5 706.0,479.0 706.6,478.8 707.2,478.4 707.8,476.1 708.4,475.5 709.0,473.9 709.6,474.0 710.2,473.6 710.8,473.5 711.4,471.9 712.0,471.1 712.6,472.7 713.2,472.8 713.8,472.5 714.4,473.5 715.0,473.7 715.6,474.1 716.2,474.3 716.8,474.2 717.4,474.9 718.0,474.6 718.6,475.2 719.2,474.8 719.8,475.8 720.4,475.3 721.0,474.0 721.6,474.5 722.2,473.8 722.8,473.8 723.4,473.5 724.0,474.0 724.6,474.3 725.2,475.4 725.8,476.3 726.4,477.0 727.0,477.7 727.6,478.9 728.2,479.4 728.8,479.9 729.4,480.3 730.0,481.0 730.6,482.0 731.2,481.2 731.8,480.9 732.4,480.2 733.0,480.0 733.6,480.2 734.1,479.7 734.6,476.8 735.1,477.3 735.6,475.7 736.1,474.9 736.6,477.4 737.1,475.8 737.6,475.4 738.1,475.1 738.6,475.1 739.1,475.5 739.6,475.6 740.1,477.9 740.6,476.3 741.1,477.3 741.6,476.1 742.1,477.2 742.6,475.6 743.1,475.2 743.6,476.0 744.1,475.9 744.6,476.1 745.1,476.9 745.6,476.1 746.1,476.5 746.6,474.4 747.1,474.9 747.6,473.4 748.1,477.3 748.6,472.3 749.1,475.9 749.6,475.8 750.1,474.7 750.6,475.7 751.1,473.9 751.6,476.3 752.1,478.0 752.6,477.9 753.1,472.6 753.6,476.5 754.1,480.4 754.6,477.5 755.1,482.5 755.6,472.9 756.1,483.3 756.6,477.4 757.1,477.3 757.6,483.9 758.1,478.2 758.6,475.9 759.1,477.6 759.6,478.2 760.1,475.6 760.6,478.3 761.1,477.5 761.6,479.2 762.1,476.1 762.6,482.2 763.1,475.3 763.6,480.5 764.1,482.9 764.6,476.8 765.1,471.1 765.6,474.2 766.1,480.7 766.6,475.3 767.1,480.5 767.6,479.0 768.1,478.0 768.6,487.5 769.1,477.4 769.6,483.4 770.1,481.7 770.6,485.7 771.1,486.0 771.6,483.0 772.1,473.4 772.6,468.7 773.1,481.2 773.5,487.5 773.8,487.5 774.2,485.9 774.5,483.2 774.9,477.5 775.2,479.6 775.6,487.5 775.9,487.5 776.3,482.1 776.6,475.2 777.0,474.6 777.3,483.5 777.7,475.0 778.0,474.4 778.4,482.9 778.7,477.3 779.1,483.5 779.4,487.0 779.8,480.1 780.1,487.5 780.5,478.7 780.8,476.3 781.2,474.6 781.5,482.2 781.9,487.5 782.2,474.8 782.6,475.3 782.9,473.7 783.3,479.8 783.6,478.5 784.0,483.4 784.3,486.5 784.7,484.7 785.0,477.8 785.4,484.2 785.7,478.2 786.1,481.3 786.4,482.2 786.8,473.7 787.1,486.8 787.5,481.6 787.8,486.9 788.2,474.2 788.5,481.5 788.9,484.1 789.2,486.7 789.6,479.8 789.9,483.0 790.3,487.4 790.6,487.5 791.0,483.1 791.3,480.0 791.7,481.0 792.0,474.8 792.4,474.6 792.7,474.2 793.1,476.5 793.4,481.7 793.8,481.0 794.1,483.0 794.5,483.0 794.8,487.5 795.2,476.5 795.5,485.5 795.9,487.5 796.2,481.9 796.6,477.8 796.9,482.4 797.3,483.6 797.6,478.8 798.0,486.8 798.3,487.5 798.7,479.8 799.0,480.8 799.4,475.4 799.7,482.7 800.1,476.7 800.4,487.5 800.8,487.5 801.1,479.7 801.5,485.8 801.8,487.5 802.2,487.4 802.5,483.4 802.9,484.0 803.2,480.3 803.6,475.0 803.9,483.5 804.3,486.5 804.6,480.1 805.0,487.5 805.3,483.2 805.7,484.3 806.0,483.2 806.4,487.5 806.7,480.5 807.1,479.3 807.4,477.3 807.8,473.9 808.1,483.7 808.5,478.8 808.8,482.3 809.2,486.0 809.5,475.0 809.9,477.3 810.2,474.1 810.6,476.1 810.9,474.5 811.3,487.4 811.6,487.5 812.0,486.2 812.3,482.8 812.7,478.3 813.0,482.3 813.4,481.1 813.7,477.1 814.1,487.5 814.4,478.4 814.8,487.5 815.1,485.4 815.5,477.7 815.8,478.3 816.2,482.9 816.5,484.7 816.9,476.0 817.2,485.0 817.6,487.5 817.9,485.4 818.3,487.5 818.6,476.2 819.0,487.4 819.3,473.6 819.7,486.0 820.0,484.4 820.4,479.9 820.7,484.4 821.1,483.2 821.4,487.5 821.8,483.1 822.1,487.5 822.5,485.7 822.8,474.6 823.2,484.8 823.5,485.0 823.9,478.3 824.2,475.0 824.6,484.5 824.9,483.2 825.3,477.7 825.6,476.4 826.0,479.3 826.3,486.4 826.7,486.3 827.0,476.9 827.4,477.7 827.7,474.7 828.1,476.5 828.4,482.3 828.8,487.0 829.1,474.7 829.5,477.8 829.8,479.7 830.2,478.0 830.5,482.8 830.9,483.5 831.2,479.7 831.6,481.1 831.9,477.4 832.3,473.7 832.6,475.1 833.0,482.5 833.3,482.7 833.7,473.7 834.0,482.3 834.4,475.6 834.7,487.1 835.1,481.2 835.4,480.1 835.8,475.3 836.1,474.1 836.5,485.8 836.8,478.2 837.2,477.9 837.5,485.6 837.9,474.4 838.2,478.9 838.6,472.1 838.9,484.6 839.3,479.0 839.6,482.1 840.0,476.8 840.3,477.2 840.7,478.6 841.0,481.5 841.4,478.4 841.7,480.4 842.1,471.7 842.4,478.5 842.8,478.1 843.1,481.4 843.5,481.2 843.8,469.5 844.2,479.6 844.5,470.3 844.9,474.4 845.2,467.8 845.6,480.7 845.9,467.7 846.3,470.0 846.6,472.9 847.0,470.1 847.3,469.4 847.7,473.3 848.0,469.7 848.4,475.7 848.7,478.4 849.1,467.1 849.4,469.6 849.8,461.8 850.1,471.4 850.5,461.5 850.8,457.8 851.2,458.2 851.5,456.1 851.9,468.8 852.2,469.8 852.6,469.8 852.9,468.6 853.3,473.5 853.6,473.8 854.0,476.8 854.3,462.6 854.7,472.7 855.0,469.0 855.4,472.4 855.7,468.3 856.1,467.9 856.4,475.3 856.8,473.3 857.1,480.8 857.5,478.2 857.8,479.6 858.2,478.6 858.5,478.7 858.9,475.0 859.2,479.2 859.6,479.6 859.9,471.7 860.3,485.3 860.6,485.6 861.0,485.0 861.3,472.1 861.7,476.1 862.0,474.7 862.4,471.2 862.7,483.4 863.1,472.1 863.4,483.3 863.8,478.9 864.1,476.4 864.5,474.6 864.8,483.7 865.2,480.1 865.5,487.2 865.9,483.3 866.2,472.1 866.6,473.5 866.9,478.8 867.3,475.5 867.6,473.7 868.0,483.1 868.3,472.6 868.7,481.3 869.0,486.1 869.4,480.1 869.7,479.1 870.1,477.5 870.4,477.9 870.8,487.5 871.1,478.5 871.5,474.0 871.8,478.1 872.2,473.1 872.5,480.7 872.9,475.9 873.2,486.8 873.6,474.5 873.9,482.0 874.3,474.9 874.6,484.0 875.0,479.0 875.3,475.4 875.7,477.7 876.0,479.2 876.4,473.5 876.7,487.5 877.1,487.5 877.4,480.3 877.8,473.8 878.1,478.1 878.5,484.3 878.8,487.5 879.2,482.1 879.5,481.5 879.9,481.7 880.2,479.3 880.6,484.9 880.9,475.1 881.3,484.7 881.6,487.5 882.0,483.7 882.3,474.2 882.7,486.8 883.0,484.9 883.4,474.3 883.7,483.8 884.1,475.7 884.4,487.5 884.8,475.0 885.1,485.6 885.5,486.5 885.8,477.4 886.2,473.3 886.5,473.8 886.9,477.2 887.2,474.6 887.6,473.4 887.9,480.5 888.3,487.1 888.6,475.6 889.0,483.0 889.1,484.4 889.3,481.3 889.5,487.5 889.7,487.5 889.9,485.2 890.0,479.8 890.2,477.3 890.4,473.9 890.6,476.2 890.8,474.2 890.9,479.1 891.1,477.5 891.3,479.9 891.5,487.5 891.7,487.5 891.8,477.1 892.0,486.2 892.2,476.6 892.4,481.9 892.6,487.5 892.7,480.3 892.9,482.3 893.1,487.5 893.3,485.2 893.5,484.5 893.6,483.8 893.8,478.0 894.0,486.7 894.2,482.3 894.4,479.6 894.5,474.1 894.7,487.5 894.9,487.5 895.1,486.4 895.3,485.9 895.4,486.8 895.6,487.5 895.8,486.1 896.0,485.8 896.2,481.7 896.3,478.9 896.5,483.6 896.7,486.7 896.9,487.5 897.1,485.2 897.2,486.7 897.4,481.6 897.6,475.3 897.8,477.8 898.0,486.2 898.1,487.5 898.3,487.5 898.5,482.4 898.7,483.6 898.9,478.4 899.0,487.5 899.2,485.3 899.4,478.3 899.6,480.2 899.8,481.1 899.9,474.8 900.1,487.5 900.3,486.3 900.5,480.3 900.7,480.3 900.8,473.5 901.0,473.6 901.2,479.9 901.4,477.1 901.6,478.1 901.7,487.3 901.9,479.7 902.1,484.5 902.3,483.6 902.5,486.9 902.6,487.5 902.8,475.6 903.0,477.8 903.2,477.2 903.4,484.8 903.5,482.7 903.7,486.6 903.9,479.7 904.1,475.8 904.3,476.8 904.4,474.3 904.6,485.2 904.8,478.1 905.0,487.4 905.2,480.8 905.3,487.5 905.5,480.7 905.7,480.7 905.9,483.8 906.1,483.8 906.2,477.9 906.4,481.7 906.6,482.8 906.8,487.5 907.0,484.9 907.1,475.7 907.3,473.7 907.5,483.4 907.7,475.3 907.9,475.3 908.0,485.9 908.2,485.0 908.4,478.2 908.6,484.5 908.8,473.9 908.9,483.5 909.1,477.6 909.3,478.0 909.5,486.0 909.7,475.4 909.8,484.1 910.0,487.5 910.2,487.5 910.4,482.1 910.6,479.2 910.7,485.1 910.9,475.8 911.1,485.1 911.3,475.7 911.5,487.5 911.6,485.2 911.8,486.9 912.0,482.2 912.2,483.8 912.4,483.1 912.5,475.6 912.7,480.0 912.9,479.6 913.1,483.1 913.3,476.3 913.4,481.3 913.6,477.3 913.8,474.6 914.0,479.5 914.2,482.4 914.3,485.2 914.5,474.6 914.7,477.0 914.9,476.5 915.1,485.9 915.2,482.4 915.4,475.1 915.6,485.5 915.8,476.2 916.0,480.7 916.1,485.9 916.3,483.4 916.5,487.5 916.7,478.5 916.9,477.7 917.0,487.5 917.2,484.6 917.4,477.0 917.6,486.2 917.8,480.7 917.9,476.4 918.1,480.2 918.3,487.5 918.5,474.7 918.7,477.3 918.8,480.3 919.0,484.1 919.2,480.0 919.4,483.1 919.6,487.5 919.7,487.5 919.9,487.5 920.1,486.7 920.3,485.5 920.5,479.1 920.6,480.0 920.8,479.9 921.0,476.1 921.2,487.5 921.4,483.2 921.5,487.5 921.7,482.7 921.9,487.5 922.1,487.5 922.3,487.5 922.4,483.1 922.6,477.1 922.8,484.9 923.0,477.4 923.2,485.7 923.3,484.8 923.5,481.8 923.7,487.5 923.9,482.2 924.1,480.0 924.2,476.1 924.4,487.5 924.6,476.5 924.8,480.2 925.0,480.1 925.1,487.5 925.3,475.2 925.5,485.0 925.7,480.6 925.9,480.7 926.0,474.7 926.2,479.7 926.4,473.4 926.6,485.7 926.8,478.7 926.9,480.1 927.1,481.1 927.3,479.3 927.5,480.5 927.7,484.0 927.8,479.0 928.0,487.5 928.2,481.7 928.4,482.1 928.5,486.0 928.7,480.2 928.9,478.6 929.1,487.4 929.3,484.6 929.4,487.5 929.6,479.8 929.8,487.5 930.0,485.7 930.2,482.2 930.3,482.1 930.5,487.5 930.7,474.1 930.9,485.7 931.1,479.6 931.2,485.9 931.4,479.8 931.6,483.7 931.8,484.3 932.0,481.8 932.1,479.9 932.3,479.7 932.5,478.3 932.7,485.1 932.9,487.5 933.0,485.4 933.2,484.2 933.4,479.6 933.6,482.7 933.8,484.4 933.9,487.5 934.1,479.8 934.3,487.5 934.5,481.1 934.7,478.3 934.8,479.3 935.0,486.9 935.2,483.7 935.4,474.2 935.6,487.5 935.7,478.4 935.9,482.4 936.1,479.5 936.3,483.1 936.5,487.5 936.6,480.3 936.8,487.5 937.0,475.4 937.2,476.5 937.4,483.4 937.5,480.7 937.7,480.9 937.9,473.5 938.1,487.5 938.3,484.6 938.4,482.9 938.6,476.7 938.8,477.6 939.0,482.6 939.2,487.5 939.3,478.9 939.5,482.9 939.7,487.5 939.9,479.2 940.1,482.2 940.2,484.5 940.4,485.1 940.6,481.0 940.8,485.4 941.0,483.1 941.1,474.2 941.3,481.7 941.5,485.4 941.7,481.0 941.9,474.6 942.0,475.4 942.2,478.5 942.4,474.9 942.6,477.2 942.8,478.4 942.9,482.5 943.1,487.0 943.3,477.6 943.5,479.2 943.7,473.7 943.8,484.3 944.0,475.2 944.2,485.9 944.4,474.1 944.6,473.3 944.7,487.5 944.9,484.2 945.1,473.2 945.3,473.7 945.5,478.6 945.6,487.3 945.8,487.5 946.0,485.4 946.2,474.1 946.4,476.4 946.5,482.5 946.7,477.1 946.9,474.8 947.1,484.6 947.3,475.3 947.4,485.1 947.6,484.1 947.8,487.5 948.0,486.9 948.2,480.5 948.3,487.5 948.5,480.6 948.7,486.7 948.9,477.3 949.1,487.4 949.2,486.1 949.4,485.1 949.6,480.0 949.8,476.3 950.0,477.2 950.1,477.4 950.3,478.4 950.5,480.6 950.7,483.9 950.9,486.6 951.0,475.4 951.2,482.8 951.4,478.9 951.6,487.5 951.8,483.6 951.9,487.5 952.1,483.7 952.3,477.5 952.5,483.9 952.7,478.4 952.8,487.5 953.0,483.2 953.2,482.8 953.4,481.2 953.6,485.8 953.7,478.1 953.9,475.1 954.1,476.3 954.3,487.5 954.5,481.5 954.6,483.9 954.8,480.2 955.0,487.5 955.2,477.6 955.4,482.7 955.5,474.1 955.7,487.5 955.9,482.7 956.1,481.6 956.3,476.0 956.4,477.2 956.6,486.5 956.8,484.5 957.0,477.5 957.2,482.7 957.3,485.2 957.5,474.3 957.7,475.8 957.9,483.7 958.1,480.5 958.2,474.4 958.4,486.0 958.6,474.7 958.8,475.1 959.0,477.7 959.1,478.3 959.3,478.3 959.5,480.6 959.7,480.0 959.9,486.3 960.0,480.3 960.2,478.5 960.4,481.6 960.6,478.4 960.8,482.0 960.9,476.4 961.1,477.8 961.3,487.5 961.5,477.0 961.7,484.8 961.8,487.5 962.0,487.5 962.2,484.2 962.4,480.9 962.6,484.1 962.7,486.2 962.9,477.0 963.1,483.4 963.3,475.3 963.5,485.5 963.6,478.3 963.8,483.7 964.0,475.7 964.2,479.0 964.4,478.4 964.5,487.5 964.7,477.3 964.9,483.7 965.1,477.4 965.3,475.7 965.4,487.5 965.6,487.5 965.8,477.1 966.0,473.7 966.2,474.8 966.3,482.4 966.5,475.9 966.7,487.5 966.9,487.5 967.1,480.0 967.2,480.9 967.4,476.1 967.6,485.7 967.8,482.0 968.0,473.4 968.1,484.6 968.3,482.9 968.5,479.6 968.7,473.3 968.9,486.5 969.0,478.2 969.2,482.7 969.4,483.0 969.6,485.3 969.8,481.9 969.9,480.1 970.1,483.1 970.3,481.3 970.5,479.1 970.7,475.6 970.8,480.4 971.0,483.3 971.2,473.8 971.4,486.7 971.6,487.5 971.7,474.7 971.9,485.2 972.1,487.0 972.3,483.2 972.5,483.9 972.6,483.7 972.8,475.6 973.0,484.8 973.2,487.3 973.4,486.0 973.5,474.0 973.7,482.5 973.9,483.6 974.1,476.8 974.3,474.3 974.4,481.2 974.6,476.2 974.8,485.2 975.0,483.8 975.2,480.1 975.3,485.6 975.5,485.0 975.7,486.4 975.9,485.2 976.1,475.8 976.2,476.5 976.4,487.5 976.6,483.8 976.8,477.7 977.0,475.5 977.1,480.4 977.3,477.7 977.5,485.6 977.7,476.8 977.9,476.1 978.0,482.9 978.2,485.6 978.4,487.5 978.6,479.2 978.8,479.2 978.9,487.5 979.1,481.0 979.3,474.2 979.5,487.5 979.7,487.2 979.8,487.5 980.0,482.4 980.2,483.2 980.4,475.3 980.6,487.5 980.7,486.2 980.9,474.2 981.1,487.5 981.3,485.3 981.5,483.1 981.6,487.5 981.8,484.8 982.0,479.7 982.2,479.5 982.4,479.6 982.5,478.9 982.7,479.5 982.9,487.5 983.1,478.8 983.3,480.0 983.4,485.9 983.6,482.7 983.8,485.6 984.0,475.4 984.2,484.9 984.3,486.8 984.5,476.5 984.7,477.1 984.9,475.6 985.1,478.5 985.2,482.7 985.4,481.7 985.6,480.4 985.8,479.8 986.0,474.1 986.1,485.2 986.3,477.0 986.5,487.5 986.7,486.4 986.9,474.1 987.0,485.4 987.2,481.2 987.4,474.6 987.6,478.8 987.8,481.5 987.9,478.1 988.1,473.6 988.3,474.2 988.5,486.5 988.7,487.2 988.8,484.8 989.0,487.1 989.2,477.0 989.4,475.9 989.6,487.2 989.7,487.5 989.9,484.2 990.1,478.3 990.3,476.9 990.5,482.0 990.6,479.1 990.8,474.6 991.0,475.2 991.2,487.5 991.4,477.9 991.5,476.8 991.7,474.7 991.9,482.7 992.1,486.9 992.3,481.8 992.4,483.5 992.6,483.1 992.8,476.4 993.0,478.9 993.2,478.4 993.3,478.9 993.5,487.2 993.7,487.5 993.9,483.1 994.1,475.7 994.2,478.9 994.4,476.6 994.6,479.4 994.8,476.7 995.0,473.3 995.1,477.9 995.3,475.5 995.5,473.7 995.7,477.4 995.9,476.3 996.0,487.5 996.2,487.5 996.4,474.5 996.6,485.6 996.8,484.5 996.9,487.3 997.1,479.2 997.3,487.5 997.5,476.5 997.7,484.6 997.8,477.4 998.0,474.7 998.2,478.2 998.4,482.6 998.6,479.3 998.7,475.6 998.9,477.9 999.1,485.4 999.3,487.5 999.5,475.2 999.6,479.3 999.8,487.5 1000.0,480.5 1000.2,479.9 1000.4,484.7 1000.5,475.1 1000.7,485.6 1000.9,487.1 1001.1,484.4 1001.3,484.0 1001.4,475.1 1001.6,478.8 1001.8,487.5 1002.0,483.1 1002.2,487.5 1002.3,478.0 1002.5,475.6 1002.7,487.5 1002.9,481.3 1003.1,485.5 1003.2,484.8 1003.4,477.3 1003.6,473.6 1003.8,484.9 1004.0,480.7 1004.1,484.4 1004.3,487.5 1004.5,479.7 1004.7,487.0 1004.9,478.3 1005.0,477.3 1005.2,487.2 1005.4,479.8 1005.6,486.1 1005.8,477.1 1005.9,484.8 1006.1,478.3 1006.3,478.9 1006.5,480.1 1006.7,485.9 1006.8,475.9 1007.0,483.7 1007.2,476.9 1007.4,481.8 1007.6,482.2 1007.7,477.9 1007.9,483.9 1008.1,477.1 1008.3,482.2 1008.5,477.4 1008.6,478.1 1008.8,474.1 1009.0,482.8 1009.2,483.8 1009.4,473.3 1009.5,481.1 1009.7,482.7 1009.9,478.1 1010.1,485.4 1010.3,473.9 1010.4,477.2 1010.6,478.9 1010.8,484.7 1011.0,476.3 1011.2,474.5 1011.3,476.6 1011.5,474.6 1011.7,487.5 1011.9,477.4 1012.1,475.4 1012.2,481.7 1012.4,487.5" fill="none" stroke="#d23c4c" stroke-width="0.95" stroke-linejoin="bevel"/>
<line x1="888.93" y1="446.40" x2="888.93" y2="488.00" stroke="#cf3a4a" stroke-width="1.2" />
<line x1="910.69" y1="427.92" x2="910.69" y2="488.00" stroke="#3d5ea8" stroke-width="1.2" />
<line x1="910.69" y1="431.61" x2="910.69" y2="488.00" stroke="#cf3a4a" stroke-width="1.2" />
<line x1="926.13" y1="456.57" x2="926.13" y2="488.00" stroke="#3d5ea8" stroke-width="1.2" />
<line x1="926.13" y1="469.51" x2="926.13" y2="488.00" stroke="#cf3a4a" stroke-width="1.2" />
<line x1="938.11" y1="429.76" x2="938.11" y2="488.00" stroke="#3d5ea8" stroke-width="1.2" />
<line x1="938.11" y1="447.33" x2="938.11" y2="488.00" stroke="#cf3a4a" stroke-width="1.2" />
<line x1="947.89" y1="455.65" x2="947.89" y2="488.00" stroke="#3d5ea8" stroke-width="1.2" />
<line x1="947.89" y1="469.51" x2="947.89" y2="488.00" stroke="#cf3a4a" stroke-width="1.2" />
<line x1="956.16" y1="441.78" x2="956.16" y2="488.00" stroke="#3d5ea8" stroke-width="1.2" />
<line x1="956.16" y1="456.57" x2="956.16" y2="488.00" stroke="#cf3a4a" stroke-width="1.2" />
<line x1="963.33" y1="455.65" x2="963.33" y2="488.00" stroke="#3d5ea8" stroke-width="1.2" />
<line x1="963.33" y1="471.36" x2="963.33" y2="488.00" stroke="#cf3a4a" stroke-width="1.2" />
<line x1="969.65" y1="439.93" x2="969.65" y2="488.00" stroke="#3d5ea8" stroke-width="1.2" />
<line x1="969.65" y1="456.57" x2="969.65" y2="488.00" stroke="#cf3a4a" stroke-width="1.2" />
<line x1="975.30" y1="469.51" x2="975.30" y2="488.00" stroke="#3d5ea8" stroke-width="1.2" />
<line x1="975.30" y1="473.21" x2="975.30" y2="488.00" stroke="#cf3a4a" stroke-width="1.2" />
<line x1="980.42" y1="440.86" x2="980.42" y2="488.00" stroke="#3d5ea8" stroke-width="1.2" />
<line x1="980.42" y1="456.57" x2="980.42" y2="488.00" stroke="#cf3a4a" stroke-width="1.2" />
<line x1="985.09" y1="469.51" x2="985.09" y2="488.00" stroke="#3d5ea8" stroke-width="1.2" />
<line x1="985.09" y1="473.21" x2="985.09" y2="488.00" stroke="#cf3a4a" stroke-width="1.2" />
<line x1="989.38" y1="451.95" x2="989.38" y2="488.00" stroke="#3d5ea8" stroke-width="1.2" />
<line x1="989.38" y1="469.51" x2="989.38" y2="488.00" stroke="#cf3a4a" stroke-width="1.2" />
<line x1="993.36" y1="460.27" x2="993.36" y2="488.00" stroke="#3d5ea8" stroke-width="1.2" />
<line x1="993.36" y1="473.21" x2="993.36" y2="488.00" stroke="#cf3a4a" stroke-width="1.2" />
<line x1="997.06" y1="467.66" x2="997.06" y2="488.00" stroke="#3d5ea8" stroke-width="1.2" />
<line x1="997.06" y1="473.21" x2="997.06" y2="488.00" stroke="#cf3a4a" stroke-width="1.2" />
<line x1="1000.53" y1="460.27" x2="1000.53" y2="488.00" stroke="#3d5ea8" stroke-width="1.2" />
<line x1="1000.53" y1="471.36" x2="1000.53" y2="488.00" stroke="#cf3a4a" stroke-width="1.2" />
<line x1="1003.78" y1="443.63" x2="1003.78" y2="488.00" stroke="#3d5ea8" stroke-width="1.2" />
<line x1="1003.78" y1="460.27" x2="1003.78" y2="488.00" stroke="#cf3a4a" stroke-width="1.2" />
<line x1="1006.85" y1="465.81" x2="1006.85" y2="488.00" stroke="#3d5ea8" stroke-width="1.2" />
<line x1="1006.85" y1="473.21" x2="1006.85" y2="488.00" stroke="#cf3a4a" stroke-width="1.2" />
<line x1="1009.75" y1="437.16" x2="1009.75" y2="488.00" stroke="#3d5ea8" stroke-width="1.2" />
<line x1="1009.75" y1="452.87" x2="1009.75" y2="488.00" stroke="#cf3a4a" stroke-width="1.2" />
<path d="M849.5 462.1 L851.1 432.5 L851.5 266.1 L851.7 192.2 L851.9 266.1 L852.3 432.5 L853.9 462.1" fill="#b03c4e" stroke="#b03c4e" stroke-width="1.2" stroke-linejoin="round"/>
<rect x="179.50" y="511.20" width="841.50" height="1.50" fill="#c4c4c4" />
<rect x="179.50" y="512.70" width="841.50" height="6.00" fill="#4b7e8b" />
<circle cx="601.5" cy="515.7" r="0.9" fill="#c8d4d8"/>
<circle cx="606" cy="515.7" r="0.9" fill="#c8d4d8"/>
<circle cx="610.5" cy="515.7" r="0.9" fill="#c8d4d8"/>
<rect x="179.50" y="518.30" width="841.50" height="17.70" fill="#d9d9d9" />
<rect x="179.50" y="535.40" width="841.50" height="1.20" fill="#b5b5b5" />
<rect x="180.30" y="521.30" width="10.60" height="10.40" fill="#1f4152" />
<path d="M185.6 523 v7 M182.1 526.5 h7" stroke="#fff" stroke-width="1.6"/>
<text x="193.50" y="529.80" font-size="9.60" fill="#333" font-weight="normal" text-anchor="start" textLength="45.00" lengthAdjust="spacingAndGlyphs" >Add Meter</text>
<path d="M243.8 526.6 h3.4 l-1.7 1.8z" fill="#333"/>
<line x1="253.40" y1="520.00" x2="253.40" y2="534.00" stroke="#c4c4c4" stroke-width="1" />
<rect x="255.90" y="521.30" width="11.70" height="10.40" fill="#1f4152" />
<path d="M257.5 523.5 h4 M257.5 526.5 h4 M257.5 529.5 h4 M261.5 526.5 h5 M264.5 524.5 l2 2 l-2 2" stroke="#fff" stroke-width="1.1" fill="none"/>
<text x="269.80" y="529.80" font-size="9.60" fill="#333" font-weight="normal" text-anchor="start" textLength="69.00" lengthAdjust="spacingAndGlyphs" >Save Meter Data</text>
<line x1="346.50" y1="520.00" x2="346.50" y2="534.00" stroke="#c4c4c4" stroke-width="1" />
<rect x="350.00" y="521.20" width="11.80" height="11.00" fill="#1f4152" />
<path d="M353.8 523.5 l5 3.2 l-5 3.2z" fill="#fff"/>
<text x="363.80" y="529.80" font-size="9.60" fill="#333" font-weight="normal" text-anchor="start" textLength="36.50" lengthAdjust="spacingAndGlyphs" >Regulate</text>
<rect x="179.50" y="537.20" width="415.00" height="114.80" fill="#dce3e6" />
<rect x="179.50" y="537.20" width="415.00" height="20.30" fill="#dfe6e9" />
<rect x="179.50" y="557.50" width="415.00" height="1.00" fill="#c9d0d3" />
<text x="184.00" y="551.20" font-size="10.30" fill="#1d1d1d" font-weight="bold" text-anchor="start" textLength="55.50" lengthAdjust="spacingAndGlyphs" >RMS Level</text>
<rect x="244.80" y="538.70" width="53.50" height="17.50" fill="#ffffff" />
<text x="247.80" y="550.70" font-size="8.60" fill="#333" font-weight="normal" text-anchor="start" >Vrms</text>
<path d="M293.3 546.7 h4 l-2 2z" fill="#222"/>
<rect x="300.80" y="542.20" width="11.50" height="10.50" fill="#223a4e" />
<rect x="302.30" y="544.70" width="8.50" height="5.50" fill="#dfe8ee" />
<rect x="302.30" y="546.50" width="8.50" height="1.80" fill="#4a6aa8" />
<path d="M314.8 546.7 h3.4 l-1.7 1.8z" fill="#222"/>
<rect x="322.00" y="542.20" width="11.50" height="10.50" fill="#1e3d55" />
<polygon points="332.05,547.45 330.71,548.67 330.79,550.49 328.97,550.41 327.75,551.75 326.53,550.41 324.71,550.49 324.79,548.67 323.45,547.45 324.79,546.23 324.71,544.41 326.53,544.49 327.75,543.15 328.97,544.49 330.79,544.41 330.71,546.23" fill="#ffffff"/>
<circle cx="327.75" cy="547.45" r="1.3" fill="#1e3d55"/>
<line x1="559.70" y1="540.20" x2="559.70" y2="555.20" stroke="#c3cacd" stroke-width="1" />
<path d="M565.2 544.2 v6.5 h6.5 M565.2 544.2 h3 M571.7 550.7 v-3" stroke="#2b5597" stroke-width="1.6" fill="none"/>
<path d="M567.7 548.2 L572.2 543.7 M568.7 543.7 h3.5 v3.5" stroke="#2b5597" stroke-width="1.5" fill="none"/>
<path d="M581.9 543.8 l7.0 7.0 M588.9 543.8 l-7.0 7.0" stroke="#1a2a3a" stroke-width="1.4"/>
<line x1="182.00" y1="603.50" x2="287.30" y2="603.50" stroke="#9ca2a5" stroke-width="1" />
<text x="185.80" y="589.70" font-size="21.40" fill="#1a1a1a" font-weight="normal" text-anchor="start" textLength="35.00" lengthAdjust="spacingAndGlyphs" stroke="#dce3e6" stroke-width="0.3">Ch1</text>
<text x="185.80" y="634.80" font-size="21.40" fill="#1a1a1a" font-weight="normal" text-anchor="start" textLength="35.50" lengthAdjust="spacingAndGlyphs" stroke="#dce3e6" stroke-width="0.3">Ch2</text>
<path d="M278.3 578.2 h7 l-3.5 6.6z" fill="#111"/>
<path d="M278.3 623.5 h7 l-3.5 6.6z" fill="#111"/>
<rect x="287.30" y="560.20" width="301.10" height="28.80" fill="#000" />
<rect x="287.30" y="617.50" width="301.10" height="30.30" fill="#000" />
<rect x="287.30" y="589.00" width="301.10" height="29.00" fill="#d6d6d6" />
<rect x="287.30" y="602.40" width="301.10" height="1.30" fill="#a5a5a5" />
<rect x="287.30" y="589.50" width="301.10" height="11.30" fill="#878787" />
<rect x="287.30" y="589.50" width="225.00" height="11.30" fill="#00f000" />
<rect x="287.30" y="594.20" width="225.00" height="2.30" fill="#000" />
<rect x="287.30" y="605.50" width="301.10" height="11.70" fill="#878787" />
<rect x="287.30" y="605.50" width="225.00" height="11.70" fill="#00f000" />
<rect x="287.30" y="609.70" width="225.00" height="2.50" fill="#000" />
<text x="503.90" y="584.60" font-size="24.40" fill="#1cf01c" font-weight="normal" text-anchor="end" textLength="55.20" lengthAdjust="spacingAndGlyphs" >4.307</text>
<text x="503.90" y="641.90" font-size="24.40" fill="#1cf01c" font-weight="normal" text-anchor="end" textLength="55.20" lengthAdjust="spacingAndGlyphs" >4.320</text>
<text x="583.50" y="584.60" font-size="24.40" fill="#1cf01c" font-weight="normal" text-anchor="end" textLength="52.80" lengthAdjust="spacingAndGlyphs" >Vrms</text>
<text x="583.50" y="641.90" font-size="24.40" fill="#1cf01c" font-weight="normal" text-anchor="end" textLength="52.80" lengthAdjust="spacingAndGlyphs" >Vrms</text>
<rect x="599.00" y="537.20" width="414.20" height="114.80" fill="#dce3e6" />
<rect x="599.00" y="537.20" width="414.20" height="20.30" fill="#dfe6e9" />
<rect x="599.00" y="557.50" width="414.20" height="1.00" fill="#c9d0d3" />
<text x="603.50" y="551.20" font-size="10.30" fill="#1d1d1d" font-weight="bold" text-anchor="start" textLength="70.50" lengthAdjust="spacingAndGlyphs" >THD+N Ratio</text>
<rect x="680.00" y="538.70" width="53.50" height="17.50" fill="#ffffff" />
<text x="683.00" y="550.70" font-size="8.60" fill="#333" font-weight="normal" text-anchor="start" >%</text>
<path d="M728.5 546.7 h4 l-2 2z" fill="#222"/>
<rect x="736.00" y="542.20" width="11.50" height="10.50" fill="#223a4e" />
<rect x="737.50" y="544.70" width="8.50" height="5.50" fill="#dfe8ee" />
<rect x="737.50" y="546.50" width="8.50" height="1.80" fill="#4a6aa8" />
<path d="M750.0 546.7 h3.4 l-1.7 1.8z" fill="#222"/>
<rect x="757.20" y="542.20" width="11.50" height="10.50" fill="#1e3d55" />
<polygon points="767.25,547.45 765.91,548.67 765.99,550.49 764.17,550.41 762.95,551.75 761.73,550.41 759.91,550.49 759.99,548.67 758.65,547.45 759.99,546.23 759.91,544.41 761.73,544.49 762.95,543.15 764.17,544.49 765.99,544.41 765.91,546.23" fill="#ffffff"/>
<circle cx="762.95" cy="547.45" r="1.3" fill="#1e3d55"/>
<line x1="978.40" y1="540.20" x2="978.40" y2="555.20" stroke="#c3cacd" stroke-width="1" />
<path d="M983.9 544.2 v6.5 h6.5 M983.9 544.2 h3 M990.4 550.7 v-3" stroke="#2b5597" stroke-width="1.6" fill="none"/>
<path d="M986.4 548.2 L990.9 543.7 M987.4 543.7 h3.5 v3.5" stroke="#2b5597" stroke-width="1.5" fill="none"/>
<path d="M1000.6 543.8 l7.0 7.0 M1007.6 543.8 l-7.0 7.0" stroke="#1a2a3a" stroke-width="1.4"/>
<line x1="601.50" y1="603.50" x2="704.75" y2="603.50" stroke="#9ca2a5" stroke-width="1" />
<text x="605.30" y="589.70" font-size="21.40" fill="#1a1a1a" font-weight="normal" text-anchor="start" textLength="35.00" lengthAdjust="spacingAndGlyphs" stroke="#dce3e6" stroke-width="0.3">Ch1</text>
<text x="605.30" y="634.80" font-size="21.40" fill="#1a1a1a" font-weight="normal" text-anchor="start" textLength="35.50" lengthAdjust="spacingAndGlyphs" stroke="#dce3e6" stroke-width="0.3">Ch2</text>
<path d="M695.8 578.2 h7 l-3.5 6.6z" fill="#111"/>
<path d="M695.8 623.5 h7 l-3.5 6.6z" fill="#111"/>
<rect x="704.75" y="560.20" width="302.35" height="28.80" fill="#000" />
<rect x="704.75" y="617.50" width="302.35" height="30.30" fill="#000" />
<rect x="704.75" y="589.00" width="302.35" height="29.00" fill="#d6d6d6" />
<rect x="704.75" y="602.40" width="302.35" height="1.30" fill="#a5a5a5" />
<rect x="704.75" y="589.50" width="302.35" height="11.30" fill="#878787" />
<rect x="704.75" y="589.50" width="2.25" height="11.30" fill="#00f000" />
<rect x="705.50" y="594.20" width="293.00" height="2.30" fill="#000" />
<rect x="704.75" y="605.50" width="302.35" height="11.70" fill="#878787" />
<rect x="704.75" y="605.50" width="1.25" height="11.70" fill="#00f000" />
<rect x="705.50" y="609.90" width="283.20" height="2.80" fill="#000" />
<text x="966.90" y="584.60" font-size="24.40" fill="#1cf01c" font-weight="normal" text-anchor="end" textLength="90.20" lengthAdjust="spacingAndGlyphs" >0.000105</text>
<text x="966.90" y="641.90" font-size="24.40" fill="#1cf01c" font-weight="normal" text-anchor="end" textLength="90.20" lengthAdjust="spacingAndGlyphs" >0.000095</text>
<text x="1003.20" y="584.60" font-size="24.40" fill="#1cf01c" font-weight="normal" text-anchor="end" textLength="20.50" lengthAdjust="spacingAndGlyphs" >%</text>
<text x="1003.20" y="641.90" font-size="24.40" fill="#1cf01c" font-weight="normal" text-anchor="end" textLength="20.50" lengthAdjust="spacingAndGlyphs" >%</text>
<rect x="179.50" y="655.40" width="415.00" height="114.80" fill="#dce3e6" />
<rect x="179.50" y="655.40" width="415.00" height="20.30" fill="#dfe6e9" />
<rect x="179.50" y="675.70" width="415.00" height="1.00" fill="#c9d0d3" />
<text x="184.00" y="669.40" font-size="10.30" fill="#1d1d1d" font-weight="bold" text-anchor="start" textLength="56.00" lengthAdjust="spacingAndGlyphs" >Frequency</text>
<rect x="245.30" y="656.90" width="53.50" height="17.50" fill="#ffffff" />
<text x="248.30" y="668.90" font-size="8.60" fill="#333" font-weight="normal" text-anchor="start" >Hz</text>
<path d="M293.8 664.9 h4 l-2 2z" fill="#222"/>
<rect x="301.30" y="660.40" width="11.50" height="10.50" fill="#223a4e" />
<rect x="302.80" y="662.90" width="8.50" height="5.50" fill="#dfe8ee" />
<rect x="302.80" y="664.70" width="8.50" height="1.80" fill="#4a6aa8" />
<path d="M315.3 664.9 h3.4 l-1.7 1.8z" fill="#222"/>
<rect x="322.50" y="660.40" width="11.50" height="10.50" fill="#1e3d55" />
<polygon points="332.55,665.65 331.21,666.87 331.29,668.69 329.47,668.61 328.25,669.95 327.03,668.61 325.21,668.69 325.29,666.87 323.95,665.65 325.29,664.43 325.21,662.61 327.03,662.69 328.25,661.35 329.47,662.69 331.29,662.61 331.21,664.43" fill="#ffffff"/>
<circle cx="328.25" cy="665.65" r="1.3" fill="#1e3d55"/>
<line x1="559.70" y1="658.40" x2="559.70" y2="673.40" stroke="#c3cacd" stroke-width="1" />
<path d="M565.2 662.4 v6.5 h6.5 M565.2 662.4 h3 M571.7 668.9 v-3" stroke="#2b5597" stroke-width="1.6" fill="none"/>
<path d="M567.7 666.4 L572.2 661.9 M568.7 661.9 h3.5 v3.5" stroke="#2b5597" stroke-width="1.5" fill="none"/>
<path d="M581.9 662.0 l7.0 7.0 M588.9 662.0 l-7.0 7.0" stroke="#1a2a3a" stroke-width="1.4"/>
<line x1="182.00" y1="721.70" x2="287.30" y2="721.70" stroke="#9ca2a5" stroke-width="1" />
<text x="185.80" y="707.90" font-size="21.40" fill="#1a1a1a" font-weight="normal" text-anchor="start" textLength="35.00" lengthAdjust="spacingAndGlyphs" stroke="#dce3e6" stroke-width="0.3">Ch1</text>
<text x="185.80" y="753.00" font-size="21.40" fill="#1a1a1a" font-weight="normal" text-anchor="start" textLength="35.50" lengthAdjust="spacingAndGlyphs" stroke="#dce3e6" stroke-width="0.3">Ch2</text>
<path d="M278.3 696.4 h7 l-3.5 6.6z" fill="#111"/>
<path d="M278.3 741.7 h7 l-3.5 6.6z" fill="#111"/>
<rect x="287.30" y="678.40" width="301.10" height="28.80" fill="#000" />
<rect x="287.30" y="735.70" width="301.10" height="30.30" fill="#000" />
<rect x="287.30" y="707.20" width="301.10" height="29.00" fill="#d6d6d6" />
<rect x="287.30" y="720.60" width="301.10" height="1.30" fill="#a5a5a5" />
<rect x="287.30" y="707.20" width="301.10" height="12.60" fill="#878787" />
<rect x="287.30" y="707.20" width="170.80" height="12.60" fill="#00f000" />
<rect x="287.30" y="711.90" width="273.50" height="2.60" fill="#000" />
<rect x="287.30" y="723.20" width="301.10" height="12.00" fill="#878787" />
<rect x="287.30" y="723.20" width="170.80" height="12.00" fill="#00f000" />
<rect x="287.30" y="728.20" width="273.50" height="2.70" fill="#000" />
<text x="523.20" y="702.80" font-size="24.40" fill="#1cf01c" font-weight="normal" text-anchor="end" textLength="78.30" lengthAdjust="spacingAndGlyphs" >0.99999</text>
<text x="523.20" y="760.10" font-size="24.40" fill="#1cf01c" font-weight="normal" text-anchor="end" textLength="78.30" lengthAdjust="spacingAndGlyphs" >0.99999</text>
<text x="584.30" y="702.80" font-size="24.40" fill="#1cf01c" font-weight="normal" text-anchor="end" textLength="37.50" lengthAdjust="spacingAndGlyphs" >kHz</text>
<text x="584.30" y="760.10" font-size="24.40" fill="#1cf01c" font-weight="normal" text-anchor="end" textLength="37.50" lengthAdjust="spacingAndGlyphs" >kHz</text>
<rect x="599.00" y="655.40" width="414.20" height="114.80" fill="#dce3e6" />
<rect x="599.00" y="655.40" width="414.20" height="20.30" fill="#dfe6e9" />
<rect x="599.00" y="675.70" width="414.20" height="1.00" fill="#c9d0d3" />
<text x="603.50" y="669.40" font-size="10.30" fill="#1d1d1d" font-weight="bold" text-anchor="start" textLength="34.00" lengthAdjust="spacingAndGlyphs" >SINAD</text>
<rect x="642.90" y="656.90" width="53.50" height="17.50" fill="#ffffff" />
<text x="645.90" y="668.90" font-size="8.60" fill="#333" font-weight="normal" text-anchor="start" >dB</text>
<path d="M691.4 664.9 h4 l-2 2z" fill="#222"/>
<rect x="698.90" y="660.40" width="11.50" height="10.50" fill="#223a4e" />
<rect x="700.40" y="662.90" width="8.50" height="5.50" fill="#dfe8ee" />
<rect x="700.40" y="664.70" width="8.50" height="1.80" fill="#4a6aa8" />
<path d="M712.9 664.9 h3.4 l-1.7 1.8z" fill="#222"/>
<rect x="720.10" y="660.40" width="11.50" height="10.50" fill="#1e3d55" />
<polygon points="730.15,665.65 728.81,666.87 728.89,668.69 727.07,668.61 725.85,669.95 724.63,668.61 722.81,668.69 722.89,666.87 721.55,665.65 722.89,664.43 722.81,662.61 724.63,662.69 725.85,661.35 727.07,662.69 728.89,662.61 728.81,664.43" fill="#ffffff"/>
<circle cx="725.85" cy="665.65" r="1.3" fill="#1e3d55"/>
<line x1="978.40" y1="658.40" x2="978.40" y2="673.40" stroke="#c3cacd" stroke-width="1" />
<path d="M983.9 662.4 v6.5 h6.5 M983.9 662.4 h3 M990.4 668.9 v-3" stroke="#2b5597" stroke-width="1.6" fill="none"/>
<path d="M986.4 666.4 L990.9 661.9 M987.4 661.9 h3.5 v3.5" stroke="#2b5597" stroke-width="1.5" fill="none"/>
<path d="M1000.6 662.0 l7.0 7.0 M1007.6 662.0 l-7.0 7.0" stroke="#1a2a3a" stroke-width="1.4"/>
<line x1="601.50" y1="721.70" x2="705.10" y2="721.70" stroke="#9ca2a5" stroke-width="1" />
<text x="605.30" y="707.90" font-size="21.40" fill="#1a1a1a" font-weight="normal" text-anchor="start" textLength="35.00" lengthAdjust="spacingAndGlyphs" stroke="#dce3e6" stroke-width="0.3">Ch1</text>
<text x="605.30" y="753.00" font-size="21.40" fill="#1a1a1a" font-weight="normal" text-anchor="start" textLength="35.50" lengthAdjust="spacingAndGlyphs" stroke="#dce3e6" stroke-width="0.3">Ch2</text>
<path d="M696.1 696.4 h7 l-3.5 6.6z" fill="#111"/>
<path d="M696.1 741.7 h7 l-3.5 6.6z" fill="#111"/>
<rect x="705.10" y="678.40" width="302.00" height="28.80" fill="#000" />
<rect x="705.10" y="735.70" width="302.00" height="30.30" fill="#000" />
<rect x="705.10" y="707.20" width="302.00" height="29.00" fill="#d6d6d6" />
<rect x="705.10" y="720.60" width="302.00" height="1.30" fill="#a5a5a5" />
<rect x="705.10" y="707.20" width="302.00" height="12.60" fill="#878787" />
<rect x="705.10" y="707.20" width="300.50" height="12.60" fill="#00f000" />
<rect x="713.70" y="712.20" width="291.90" height="2.40" fill="#000" />
<rect x="705.10" y="723.20" width="302.00" height="12.00" fill="#878787" />
<rect x="705.10" y="723.20" width="300.50" height="12.00" fill="#00f000" />
<rect x="723.00" y="727.80" width="282.60" height="2.30" fill="#000" />
<text x="957.20" y="702.80" font-size="24.40" fill="#1cf01c" font-weight="normal" text-anchor="end" textLength="77.90" lengthAdjust="spacingAndGlyphs" >119.570</text>
<text x="957.20" y="760.10" font-size="24.40" fill="#1cf01c" font-weight="normal" text-anchor="end" textLength="77.90" lengthAdjust="spacingAndGlyphs" >120.484</text>
<text x="1002.70" y="702.80" font-size="24.40" fill="#1cf01c" font-weight="normal" text-anchor="end" textLength="28.20" lengthAdjust="spacingAndGlyphs" >dB</text>
<text x="1002.70" y="760.10" font-size="24.40" fill="#1cf01c" font-weight="normal" text-anchor="end" textLength="28.20" lengthAdjust="spacingAndGlyphs" >dB</text>
<rect x="179.50" y="772.80" width="841.50" height="1.70" fill="#e6e6e6" />
<rect x="179.50" y="774.50" width="841.50" height="11.50" fill="#ececec" />
<text x="453.00" y="783.30" font-size="9.00" fill="#3a3a3a" font-weight="normal" text-anchor="start" textLength="31.50" lengthAdjust="spacingAndGlyphs" >Output:</text>
<rect x="490.00" y="774.50" width="168.75" height="11.50" fill="#000" />
<text x="492.00" y="783.30" font-size="8.80" fill="#1cbe1c" font-weight="normal" text-anchor="start" textLength="164.75" lengthAdjust="spacingAndGlyphs" stroke="#1cbe1c" stroke-width="0.35">ASIO: Topping USB Audio Device 2 Chs</text>
<rect x="661.25" y="774.50" width="57.50" height="11.50" fill="#000" />
<text x="663.25" y="783.30" font-size="8.80" fill="#1cbe1c" font-weight="normal" text-anchor="start" textLength="53.50" lengthAdjust="spacingAndGlyphs" stroke="#1cbe1c" stroke-width="0.35">44.1000 kHz</text>
<text x="722.50" y="783.30" font-size="9.00" fill="#444" font-weight="normal" text-anchor="start" textLength="25.00" lengthAdjust="spacingAndGlyphs" >Input:</text>
<rect x="753.00" y="774.50" width="143.25" height="11.50" fill="#000" />
<text x="755.00" y="783.30" font-size="8.80" fill="#1cbe1c" font-weight="normal" text-anchor="start" textLength="139.25" lengthAdjust="spacingAndGlyphs" stroke="#1cbe1c" stroke-width="0.35">Analog Balanced 2 Ch, 200 kohm</text>
<rect x="898.75" y="774.50" width="52.50" height="11.50" fill="#000" />
<text x="900.75" y="783.30" font-size="8.80" fill="#1cbe1c" font-weight="normal" text-anchor="start" textLength="48.50" lengthAdjust="spacingAndGlyphs" stroke="#1cbe1c" stroke-width="0.35">5.000 Vrms</text>
<rect x="953.25" y="774.50" width="67.75" height="11.50" fill="#000" />
<text x="955.25" y="783.30" font-size="8.80" fill="#1cbe1c" font-weight="normal" text-anchor="start" textLength="63.75" lengthAdjust="spacingAndGlyphs" stroke="#1cbe1c" stroke-width="0.35">20 Hz - 20 kHz</text>
<text x="422.50" y="842.50" font-size="41.00" fill="#ffffff" font-weight="normal" text-anchor="start" textLength="110.50" lengthAdjust="spacingAndGlyphs" stroke="url(#bg)" stroke-width="0.3">SINAD</text>
<text x="400.50" y="877.80" font-size="25.50" fill="#ffffff" font-weight="normal" text-anchor="start" textLength="155.00" lengthAdjust="spacingAndGlyphs" stroke="url(#bg)" stroke-width="0.2">119dB @1kHz</text>
<rect x="597.90" y="805.00" width="2.00" height="81.60" fill="#f0f0f0" />
<text x="641.00" y="842.80" font-size="41.00" fill="#ffffff" font-weight="normal" text-anchor="start" textLength="267.00" lengthAdjust="spacingAndGlyphs" stroke="url(#bg)" stroke-width="0.3">Dynamic range</text>
<text x="697.50" y="878.20" font-size="25.50" fill="#ffffff" font-weight="normal" text-anchor="start" textLength="153.50" lengthAdjust="spacingAndGlyphs" stroke="url(#bg)" stroke-width="0.2">125dB @1kHz</text>
</svg></body></html>
